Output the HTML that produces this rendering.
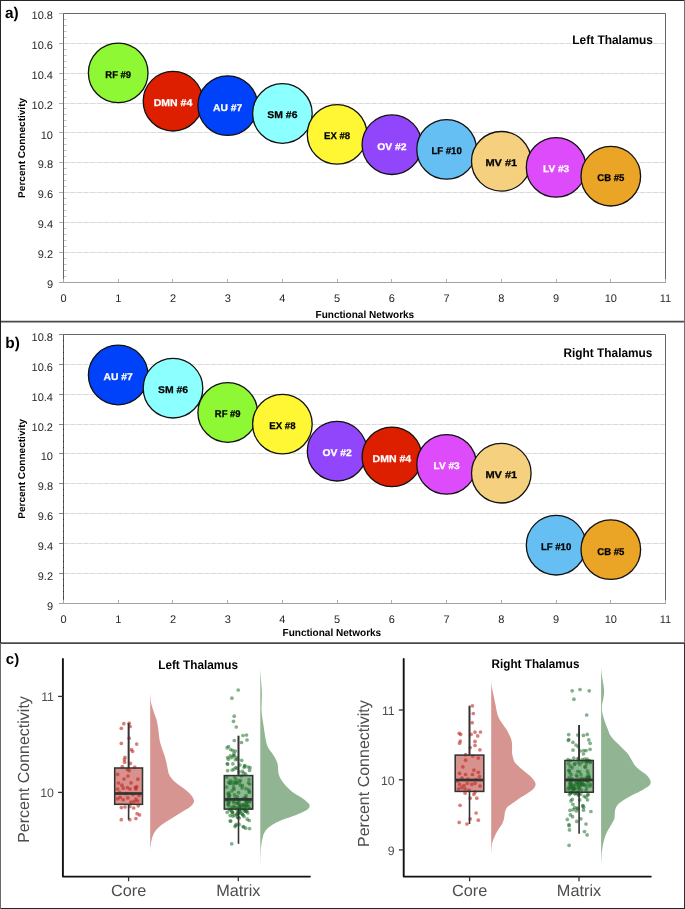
<!DOCTYPE html>
<html><head><meta charset="utf-8"><title>Figure</title>
<style>html,body{margin:0;padding:0;background:#fff;}body{width:685px;height:909px;overflow:hidden;font-family:"Liberation Sans", sans-serif;}svg{display:block;will-change:transform;text-rendering:geometricPrecision;}</style>
</head><body>
<svg width="685" height="909" viewBox="0 0 685 909" font-family='"Liberation Sans", sans-serif'>
<rect x="0" y="0" width="685" height="909" fill="#fff"/>
<line x1="64.0" y1="43.5" x2="665.0" y2="43.5" stroke="#e8e8e8" stroke-width="1"/>
<line x1="64.0" y1="43.5" x2="665.0" y2="43.5" stroke="#d9d9d9" stroke-width="1" stroke-dasharray="4.2,2.5"/>
<line x1="64.0" y1="73.5" x2="665.0" y2="73.5" stroke="#e8e8e8" stroke-width="1"/>
<line x1="64.0" y1="73.5" x2="665.0" y2="73.5" stroke="#d9d9d9" stroke-width="1" stroke-dasharray="4.2,2.5"/>
<line x1="64.0" y1="103.5" x2="665.0" y2="103.5" stroke="#e8e8e8" stroke-width="1"/>
<line x1="64.0" y1="103.5" x2="665.0" y2="103.5" stroke="#d9d9d9" stroke-width="1" stroke-dasharray="4.2,2.5"/>
<line x1="64.0" y1="132.5" x2="665.0" y2="132.5" stroke="#e8e8e8" stroke-width="1"/>
<line x1="64.0" y1="132.5" x2="665.0" y2="132.5" stroke="#d9d9d9" stroke-width="1" stroke-dasharray="4.2,2.5"/>
<line x1="64.0" y1="162.5" x2="665.0" y2="162.5" stroke="#e8e8e8" stroke-width="1"/>
<line x1="64.0" y1="162.5" x2="665.0" y2="162.5" stroke="#d9d9d9" stroke-width="1" stroke-dasharray="4.2,2.5"/>
<line x1="64.0" y1="192.5" x2="665.0" y2="192.5" stroke="#e8e8e8" stroke-width="1"/>
<line x1="64.0" y1="192.5" x2="665.0" y2="192.5" stroke="#d9d9d9" stroke-width="1" stroke-dasharray="4.2,2.5"/>
<line x1="64.0" y1="222.5" x2="665.0" y2="222.5" stroke="#e8e8e8" stroke-width="1"/>
<line x1="64.0" y1="222.5" x2="665.0" y2="222.5" stroke="#d9d9d9" stroke-width="1" stroke-dasharray="4.2,2.5"/>
<line x1="64.0" y1="252.5" x2="665.0" y2="252.5" stroke="#e8e8e8" stroke-width="1"/>
<line x1="64.0" y1="252.5" x2="665.0" y2="252.5" stroke="#d9d9d9" stroke-width="1" stroke-dasharray="4.2,2.5"/>
<line x1="59" y1="282.5" x2="63.5" y2="282.5" stroke="#b0b0b0" stroke-width="1"/>
<line x1="63.5" y1="276.5" x2="66.5" y2="276.5" stroke="#c4c4c4" stroke-width="1"/>
<line x1="63.5" y1="270.5" x2="66.5" y2="270.5" stroke="#c4c4c4" stroke-width="1"/>
<line x1="63.5" y1="264.5" x2="66.5" y2="264.5" stroke="#c4c4c4" stroke-width="1"/>
<line x1="63.5" y1="258.5" x2="66.5" y2="258.5" stroke="#c4c4c4" stroke-width="1"/>
<line x1="59" y1="252.5" x2="63.5" y2="252.5" stroke="#b0b0b0" stroke-width="1"/>
<line x1="63.5" y1="246.5" x2="66.5" y2="246.5" stroke="#c4c4c4" stroke-width="1"/>
<line x1="63.5" y1="240.5" x2="66.5" y2="240.5" stroke="#c4c4c4" stroke-width="1"/>
<line x1="63.5" y1="234.5" x2="66.5" y2="234.5" stroke="#c4c4c4" stroke-width="1"/>
<line x1="63.5" y1="228.5" x2="66.5" y2="228.5" stroke="#c4c4c4" stroke-width="1"/>
<line x1="59" y1="222.5" x2="63.5" y2="222.5" stroke="#b0b0b0" stroke-width="1"/>
<line x1="63.5" y1="216.5" x2="66.5" y2="216.5" stroke="#c4c4c4" stroke-width="1"/>
<line x1="63.5" y1="210.5" x2="66.5" y2="210.5" stroke="#c4c4c4" stroke-width="1"/>
<line x1="63.5" y1="204.5" x2="66.5" y2="204.5" stroke="#c4c4c4" stroke-width="1"/>
<line x1="63.5" y1="198.5" x2="66.5" y2="198.5" stroke="#c4c4c4" stroke-width="1"/>
<line x1="59" y1="192.5" x2="63.5" y2="192.5" stroke="#b0b0b0" stroke-width="1"/>
<line x1="63.5" y1="186.5" x2="66.5" y2="186.5" stroke="#c4c4c4" stroke-width="1"/>
<line x1="63.5" y1="180.5" x2="66.5" y2="180.5" stroke="#c4c4c4" stroke-width="1"/>
<line x1="63.5" y1="174.5" x2="66.5" y2="174.5" stroke="#c4c4c4" stroke-width="1"/>
<line x1="63.5" y1="168.5" x2="66.5" y2="168.5" stroke="#c4c4c4" stroke-width="1"/>
<line x1="59" y1="162.5" x2="63.5" y2="162.5" stroke="#b0b0b0" stroke-width="1"/>
<line x1="63.5" y1="156.5" x2="66.5" y2="156.5" stroke="#c4c4c4" stroke-width="1"/>
<line x1="63.5" y1="150.5" x2="66.5" y2="150.5" stroke="#c4c4c4" stroke-width="1"/>
<line x1="63.5" y1="144.5" x2="66.5" y2="144.5" stroke="#c4c4c4" stroke-width="1"/>
<line x1="63.5" y1="138.5" x2="66.5" y2="138.5" stroke="#c4c4c4" stroke-width="1"/>
<line x1="59" y1="132.5" x2="63.5" y2="132.5" stroke="#b0b0b0" stroke-width="1"/>
<line x1="63.5" y1="126.5" x2="66.5" y2="126.5" stroke="#c4c4c4" stroke-width="1"/>
<line x1="63.5" y1="120.5" x2="66.5" y2="120.5" stroke="#c4c4c4" stroke-width="1"/>
<line x1="63.5" y1="114.5" x2="66.5" y2="114.5" stroke="#c4c4c4" stroke-width="1"/>
<line x1="63.5" y1="108.5" x2="66.5" y2="108.5" stroke="#c4c4c4" stroke-width="1"/>
<line x1="59" y1="103.5" x2="63.5" y2="103.5" stroke="#b0b0b0" stroke-width="1"/>
<line x1="63.5" y1="97.5" x2="66.5" y2="97.5" stroke="#c4c4c4" stroke-width="1"/>
<line x1="63.5" y1="91.5" x2="66.5" y2="91.5" stroke="#c4c4c4" stroke-width="1"/>
<line x1="63.5" y1="85.5" x2="66.5" y2="85.5" stroke="#c4c4c4" stroke-width="1"/>
<line x1="63.5" y1="79.5" x2="66.5" y2="79.5" stroke="#c4c4c4" stroke-width="1"/>
<line x1="59" y1="73.5" x2="63.5" y2="73.5" stroke="#b0b0b0" stroke-width="1"/>
<line x1="63.5" y1="67.5" x2="66.5" y2="67.5" stroke="#c4c4c4" stroke-width="1"/>
<line x1="63.5" y1="61.5" x2="66.5" y2="61.5" stroke="#c4c4c4" stroke-width="1"/>
<line x1="63.5" y1="55.5" x2="66.5" y2="55.5" stroke="#c4c4c4" stroke-width="1"/>
<line x1="63.5" y1="49.5" x2="66.5" y2="49.5" stroke="#c4c4c4" stroke-width="1"/>
<line x1="59" y1="43.5" x2="63.5" y2="43.5" stroke="#b0b0b0" stroke-width="1"/>
<line x1="63.5" y1="37.5" x2="66.5" y2="37.5" stroke="#c4c4c4" stroke-width="1"/>
<line x1="63.5" y1="31.5" x2="66.5" y2="31.5" stroke="#c4c4c4" stroke-width="1"/>
<line x1="63.5" y1="25.5" x2="66.5" y2="25.5" stroke="#c4c4c4" stroke-width="1"/>
<line x1="63.5" y1="19.5" x2="66.5" y2="19.5" stroke="#c4c4c4" stroke-width="1"/>
<line x1="59" y1="13.5" x2="63.5" y2="13.5" stroke="#b0b0b0" stroke-width="1"/>
<line x1="118.5" y1="279.0" x2="118.5" y2="282.5" stroke="#b0b0b0" stroke-width="1"/>
<line x1="172.5" y1="279.0" x2="172.5" y2="282.5" stroke="#b0b0b0" stroke-width="1"/>
<line x1="227.5" y1="279.0" x2="227.5" y2="282.5" stroke="#b0b0b0" stroke-width="1"/>
<line x1="282.5" y1="279.0" x2="282.5" y2="282.5" stroke="#b0b0b0" stroke-width="1"/>
<line x1="337.5" y1="279.0" x2="337.5" y2="282.5" stroke="#b0b0b0" stroke-width="1"/>
<line x1="391.5" y1="279.0" x2="391.5" y2="282.5" stroke="#b0b0b0" stroke-width="1"/>
<line x1="446.5" y1="279.0" x2="446.5" y2="282.5" stroke="#b0b0b0" stroke-width="1"/>
<line x1="501.5" y1="279.0" x2="501.5" y2="282.5" stroke="#b0b0b0" stroke-width="1"/>
<line x1="556.5" y1="279.0" x2="556.5" y2="282.5" stroke="#b0b0b0" stroke-width="1"/>
<line x1="610.5" y1="279.0" x2="610.5" y2="282.5" stroke="#b0b0b0" stroke-width="1"/>
<line x1="665.5" y1="279.0" x2="665.5" y2="282.5" stroke="#b0b0b0" stroke-width="1"/>
<line x1="59" y1="282.5" x2="666.0" y2="282.5" stroke="#a2a2a2" stroke-width="1"/>
<line x1="63.5" y1="278.5" x2="63.5" y2="282.5" stroke="#aaaaaa" stroke-width="1"/>
<path d="M63.5,279.0 L63.5,13.5 L665.5,13.5 L665.5,279.0" fill="none" stroke="#666666" stroke-width="1"/>
<text x="53.0" y="287.8" text-anchor="end" font-size="11" fill="#262626">9</text>
<text x="53.0" y="258.0" text-anchor="end" font-size="11" fill="#262626">9.2</text>
<text x="53.0" y="228.1" text-anchor="end" font-size="11" fill="#262626">9.4</text>
<text x="53.0" y="198.2" text-anchor="end" font-size="11" fill="#262626">9.6</text>
<text x="53.0" y="168.3" text-anchor="end" font-size="11" fill="#262626">9.8</text>
<text x="53.0" y="138.5" text-anchor="end" font-size="11" fill="#262626">10</text>
<text x="53.0" y="108.6" text-anchor="end" font-size="11" fill="#262626">10.2</text>
<text x="53.0" y="78.7" text-anchor="end" font-size="11" fill="#262626">10.4</text>
<text x="53.0" y="48.9" text-anchor="end" font-size="11" fill="#262626">10.6</text>
<text x="53.0" y="19.0" text-anchor="end" font-size="11" fill="#262626">10.8</text>
<text x="63.5" y="302.4" text-anchor="middle" font-size="11" fill="#262626">0</text>
<text x="118.2" y="302.4" text-anchor="middle" font-size="11" fill="#262626">1</text>
<text x="173.0" y="302.4" text-anchor="middle" font-size="11" fill="#262626">2</text>
<text x="227.7" y="302.4" text-anchor="middle" font-size="11" fill="#262626">3</text>
<text x="282.4" y="302.4" text-anchor="middle" font-size="11" fill="#262626">4</text>
<text x="337.1" y="302.4" text-anchor="middle" font-size="11" fill="#262626">5</text>
<text x="391.9" y="302.4" text-anchor="middle" font-size="11" fill="#262626">6</text>
<text x="446.6" y="302.4" text-anchor="middle" font-size="11" fill="#262626">7</text>
<text x="501.3" y="302.4" text-anchor="middle" font-size="11" fill="#262626">8</text>
<text x="556.1" y="302.4" text-anchor="middle" font-size="11" fill="#262626">9</text>
<text x="610.8" y="302.4" text-anchor="middle" font-size="11" fill="#262626">10</text>
<text x="665.5" y="302.4" text-anchor="middle" font-size="11" fill="#262626">11</text>
<circle cx="118.2" cy="72.9" r="29.8" fill="#8ff834" stroke="#111" stroke-width="1.3"/>
<text x="118.2" y="77.8" text-anchor="middle" font-size="9.8" font-weight="bold" fill="#000" stroke="#000" stroke-width="0.25" textLength="25.8" lengthAdjust="spacingAndGlyphs">RF #9</text>
<circle cx="173.0" cy="101.2" r="29.8" fill="#dd1f00" stroke="#111" stroke-width="1.3"/>
<text x="173.0" y="106.1" text-anchor="middle" font-size="9.8" font-weight="bold" fill="#fff" stroke="#fff" stroke-width="0.25" textLength="38.6" lengthAdjust="spacingAndGlyphs">DMN #4</text>
<circle cx="227.7" cy="105.6" r="29.8" fill="#0042fa" stroke="#111" stroke-width="1.3"/>
<text x="227.7" y="110.5" text-anchor="middle" font-size="9.8" font-weight="bold" fill="#fff" stroke="#fff" stroke-width="0.25" textLength="29.2" lengthAdjust="spacingAndGlyphs">AU #7</text>
<circle cx="282.4" cy="113.5" r="29.8" fill="#8cffff" stroke="#111" stroke-width="1.3"/>
<text x="282.4" y="118.4" text-anchor="middle" font-size="9.8" font-weight="bold" fill="#000" stroke="#000" stroke-width="0.25" textLength="30.1" lengthAdjust="spacingAndGlyphs">SM #6</text>
<circle cx="337.1" cy="134.4" r="29.8" fill="#fff733" stroke="#111" stroke-width="1.3"/>
<text x="337.1" y="139.3" text-anchor="middle" font-size="9.8" font-weight="bold" fill="#000" stroke="#000" stroke-width="0.25" textLength="26.2" lengthAdjust="spacingAndGlyphs">EX #8</text>
<circle cx="391.9" cy="144.7" r="29.8" fill="#9146fb" stroke="#111" stroke-width="1.3"/>
<text x="391.9" y="149.6" text-anchor="middle" font-size="9.8" font-weight="bold" fill="#fff" stroke="#fff" stroke-width="0.25" textLength="29.3" lengthAdjust="spacingAndGlyphs">OV #2</text>
<circle cx="446.6" cy="149.4" r="29.8" fill="#66bff2" stroke="#111" stroke-width="1.3"/>
<text x="446.6" y="154.3" text-anchor="middle" font-size="9.8" font-weight="bold" fill="#000" stroke="#000" stroke-width="0.25" textLength="30.4" lengthAdjust="spacingAndGlyphs">LF #10</text>
<circle cx="501.3" cy="161.3" r="29.8" fill="#f5d17f" stroke="#111" stroke-width="1.3"/>
<text x="501.3" y="166.2" text-anchor="middle" font-size="9.8" font-weight="bold" fill="#000" stroke="#000" stroke-width="0.25" textLength="31.8" lengthAdjust="spacingAndGlyphs">MV #1</text>
<circle cx="556.1" cy="167.4" r="29.8" fill="#de4bfb" stroke="#111" stroke-width="1.3"/>
<text x="556.1" y="172.3" text-anchor="middle" font-size="9.8" font-weight="bold" fill="#fff" stroke="#fff" stroke-width="0.25" textLength="26.2" lengthAdjust="spacingAndGlyphs">LV #3</text>
<circle cx="610.8" cy="176.2" r="29.8" fill="#eaa426" stroke="#111" stroke-width="1.3"/>
<text x="610.8" y="181.1" text-anchor="middle" font-size="9.8" font-weight="bold" fill="#000" stroke="#000" stroke-width="0.25" textLength="27.1" lengthAdjust="spacingAndGlyphs">CB #5</text>
<text x="572.3" y="43.5" font-size="12.4" font-weight="bold" fill="#000" textLength="80.7" lengthAdjust="spacingAndGlyphs">Left Thalamus</text>
<text x="5.0" y="18.0" font-size="15.4" font-weight="bold" fill="#000">a)</text>
<text transform="translate(25.4,147.9) rotate(-90)" x="0" y="0" text-anchor="middle" font-size="9.8" font-weight="bold" fill="#000" textLength="100.0" lengthAdjust="spacingAndGlyphs">Percent Connectivity</text>
<text x="315.5" y="317.7" font-size="10.3" font-weight="bold" fill="#000" textLength="98.7" lengthAdjust="spacingAndGlyphs">Functional Networks</text>
<line x1="64.0" y1="364.5" x2="665.0" y2="364.5" stroke="#e8e8e8" stroke-width="1"/>
<line x1="64.0" y1="364.5" x2="665.0" y2="364.5" stroke="#d9d9d9" stroke-width="1" stroke-dasharray="4.2,2.5"/>
<line x1="64.0" y1="394.5" x2="665.0" y2="394.5" stroke="#e8e8e8" stroke-width="1"/>
<line x1="64.0" y1="394.5" x2="665.0" y2="394.5" stroke="#d9d9d9" stroke-width="1" stroke-dasharray="4.2,2.5"/>
<line x1="64.0" y1="424.5" x2="665.0" y2="424.5" stroke="#e8e8e8" stroke-width="1"/>
<line x1="64.0" y1="424.5" x2="665.0" y2="424.5" stroke="#d9d9d9" stroke-width="1" stroke-dasharray="4.2,2.5"/>
<line x1="64.0" y1="453.5" x2="665.0" y2="453.5" stroke="#e8e8e8" stroke-width="1"/>
<line x1="64.0" y1="453.5" x2="665.0" y2="453.5" stroke="#d9d9d9" stroke-width="1" stroke-dasharray="4.2,2.5"/>
<line x1="64.0" y1="483.5" x2="665.0" y2="483.5" stroke="#e8e8e8" stroke-width="1"/>
<line x1="64.0" y1="483.5" x2="665.0" y2="483.5" stroke="#d9d9d9" stroke-width="1" stroke-dasharray="4.2,2.5"/>
<line x1="64.0" y1="513.5" x2="665.0" y2="513.5" stroke="#e8e8e8" stroke-width="1"/>
<line x1="64.0" y1="513.5" x2="665.0" y2="513.5" stroke="#d9d9d9" stroke-width="1" stroke-dasharray="4.2,2.5"/>
<line x1="64.0" y1="543.5" x2="665.0" y2="543.5" stroke="#e8e8e8" stroke-width="1"/>
<line x1="64.0" y1="543.5" x2="665.0" y2="543.5" stroke="#d9d9d9" stroke-width="1" stroke-dasharray="4.2,2.5"/>
<line x1="64.0" y1="573.5" x2="665.0" y2="573.5" stroke="#e8e8e8" stroke-width="1"/>
<line x1="64.0" y1="573.5" x2="665.0" y2="573.5" stroke="#d9d9d9" stroke-width="1" stroke-dasharray="4.2,2.5"/>
<line x1="59" y1="603.5" x2="63.5" y2="603.5" stroke="#8a8a8a" stroke-width="1"/>
<line x1="63.0" y1="597.5" x2="64.0" y2="597.5" stroke="#2a2a2a" stroke-width="1"/>
<line x1="63.0" y1="591.5" x2="64.0" y2="591.5" stroke="#2a2a2a" stroke-width="1"/>
<line x1="63.0" y1="585.5" x2="64.0" y2="585.5" stroke="#2a2a2a" stroke-width="1"/>
<line x1="63.0" y1="579.5" x2="64.0" y2="579.5" stroke="#2a2a2a" stroke-width="1"/>
<line x1="59" y1="573.5" x2="63.5" y2="573.5" stroke="#8a8a8a" stroke-width="1"/>
<line x1="63.0" y1="567.5" x2="64.0" y2="567.5" stroke="#2a2a2a" stroke-width="1"/>
<line x1="63.0" y1="561.5" x2="64.0" y2="561.5" stroke="#2a2a2a" stroke-width="1"/>
<line x1="63.0" y1="555.5" x2="64.0" y2="555.5" stroke="#2a2a2a" stroke-width="1"/>
<line x1="63.0" y1="549.5" x2="64.0" y2="549.5" stroke="#2a2a2a" stroke-width="1"/>
<line x1="59" y1="543.5" x2="63.5" y2="543.5" stroke="#8a8a8a" stroke-width="1"/>
<line x1="63.0" y1="537.5" x2="64.0" y2="537.5" stroke="#2a2a2a" stroke-width="1"/>
<line x1="63.0" y1="531.5" x2="64.0" y2="531.5" stroke="#2a2a2a" stroke-width="1"/>
<line x1="63.0" y1="525.5" x2="64.0" y2="525.5" stroke="#2a2a2a" stroke-width="1"/>
<line x1="63.0" y1="519.5" x2="64.0" y2="519.5" stroke="#2a2a2a" stroke-width="1"/>
<line x1="59" y1="513.5" x2="63.5" y2="513.5" stroke="#8a8a8a" stroke-width="1"/>
<line x1="63.0" y1="507.5" x2="64.0" y2="507.5" stroke="#2a2a2a" stroke-width="1"/>
<line x1="63.0" y1="501.5" x2="64.0" y2="501.5" stroke="#2a2a2a" stroke-width="1"/>
<line x1="63.0" y1="495.5" x2="64.0" y2="495.5" stroke="#2a2a2a" stroke-width="1"/>
<line x1="63.0" y1="489.5" x2="64.0" y2="489.5" stroke="#2a2a2a" stroke-width="1"/>
<line x1="59" y1="483.5" x2="63.5" y2="483.5" stroke="#8a8a8a" stroke-width="1"/>
<line x1="63.0" y1="477.5" x2="64.0" y2="477.5" stroke="#2a2a2a" stroke-width="1"/>
<line x1="63.0" y1="471.5" x2="64.0" y2="471.5" stroke="#2a2a2a" stroke-width="1"/>
<line x1="63.0" y1="465.5" x2="64.0" y2="465.5" stroke="#2a2a2a" stroke-width="1"/>
<line x1="63.0" y1="459.5" x2="64.0" y2="459.5" stroke="#2a2a2a" stroke-width="1"/>
<line x1="59" y1="453.5" x2="63.5" y2="453.5" stroke="#8a8a8a" stroke-width="1"/>
<line x1="63.0" y1="447.5" x2="64.0" y2="447.5" stroke="#2a2a2a" stroke-width="1"/>
<line x1="63.0" y1="441.5" x2="64.0" y2="441.5" stroke="#2a2a2a" stroke-width="1"/>
<line x1="63.0" y1="435.5" x2="64.0" y2="435.5" stroke="#2a2a2a" stroke-width="1"/>
<line x1="63.0" y1="429.5" x2="64.0" y2="429.5" stroke="#2a2a2a" stroke-width="1"/>
<line x1="59" y1="424.5" x2="63.5" y2="424.5" stroke="#8a8a8a" stroke-width="1"/>
<line x1="63.0" y1="418.5" x2="64.0" y2="418.5" stroke="#2a2a2a" stroke-width="1"/>
<line x1="63.0" y1="412.5" x2="64.0" y2="412.5" stroke="#2a2a2a" stroke-width="1"/>
<line x1="63.0" y1="406.5" x2="64.0" y2="406.5" stroke="#2a2a2a" stroke-width="1"/>
<line x1="63.0" y1="400.5" x2="64.0" y2="400.5" stroke="#2a2a2a" stroke-width="1"/>
<line x1="59" y1="394.5" x2="63.5" y2="394.5" stroke="#8a8a8a" stroke-width="1"/>
<line x1="63.0" y1="388.5" x2="64.0" y2="388.5" stroke="#2a2a2a" stroke-width="1"/>
<line x1="63.0" y1="382.5" x2="64.0" y2="382.5" stroke="#2a2a2a" stroke-width="1"/>
<line x1="63.0" y1="376.5" x2="64.0" y2="376.5" stroke="#2a2a2a" stroke-width="1"/>
<line x1="63.0" y1="370.5" x2="64.0" y2="370.5" stroke="#2a2a2a" stroke-width="1"/>
<line x1="59" y1="364.5" x2="63.5" y2="364.5" stroke="#8a8a8a" stroke-width="1"/>
<line x1="63.0" y1="358.5" x2="64.0" y2="358.5" stroke="#2a2a2a" stroke-width="1"/>
<line x1="63.0" y1="352.5" x2="64.0" y2="352.5" stroke="#2a2a2a" stroke-width="1"/>
<line x1="63.0" y1="346.5" x2="64.0" y2="346.5" stroke="#2a2a2a" stroke-width="1"/>
<line x1="63.0" y1="340.5" x2="64.0" y2="340.5" stroke="#2a2a2a" stroke-width="1"/>
<line x1="59" y1="334.5" x2="63.5" y2="334.5" stroke="#8a8a8a" stroke-width="1"/>
<line x1="118.5" y1="600.0" x2="118.5" y2="603.5" stroke="#b0b0b0" stroke-width="1"/>
<line x1="172.5" y1="600.0" x2="172.5" y2="603.5" stroke="#b0b0b0" stroke-width="1"/>
<line x1="227.5" y1="600.0" x2="227.5" y2="603.5" stroke="#b0b0b0" stroke-width="1"/>
<line x1="282.5" y1="600.0" x2="282.5" y2="603.5" stroke="#b0b0b0" stroke-width="1"/>
<line x1="337.5" y1="600.0" x2="337.5" y2="603.5" stroke="#b0b0b0" stroke-width="1"/>
<line x1="391.5" y1="600.0" x2="391.5" y2="603.5" stroke="#b0b0b0" stroke-width="1"/>
<line x1="446.5" y1="600.0" x2="446.5" y2="603.5" stroke="#b0b0b0" stroke-width="1"/>
<line x1="501.5" y1="600.0" x2="501.5" y2="603.5" stroke="#b0b0b0" stroke-width="1"/>
<line x1="556.5" y1="600.0" x2="556.5" y2="603.5" stroke="#b0b0b0" stroke-width="1"/>
<line x1="610.5" y1="600.0" x2="610.5" y2="603.5" stroke="#b0b0b0" stroke-width="1"/>
<line x1="665.5" y1="600.0" x2="665.5" y2="603.5" stroke="#b0b0b0" stroke-width="1"/>
<line x1="59" y1="603.5" x2="666.0" y2="603.5" stroke="#a2a2a2" stroke-width="1"/>
<line x1="63.5" y1="599.5" x2="63.5" y2="603.5" stroke="#aaaaaa" stroke-width="1"/>
<path d="M63.5,600.0 L63.5,334.5 L665.5,334.5 L665.5,600.0" fill="none" stroke="#666666" stroke-width="1"/>
<line x1="63.5" y1="334.5" x2="63.5" y2="600.0" stroke="#5a5a5a" stroke-width="1"/>
<line x1="63.0" y1="597.5" x2="64.0" y2="597.5" stroke="#2a2a2a" stroke-width="1"/>
<line x1="63.0" y1="591.5" x2="64.0" y2="591.5" stroke="#2a2a2a" stroke-width="1"/>
<line x1="63.0" y1="585.5" x2="64.0" y2="585.5" stroke="#2a2a2a" stroke-width="1"/>
<line x1="63.0" y1="579.5" x2="64.0" y2="579.5" stroke="#2a2a2a" stroke-width="1"/>
<line x1="63.0" y1="567.5" x2="64.0" y2="567.5" stroke="#2a2a2a" stroke-width="1"/>
<line x1="63.0" y1="561.5" x2="64.0" y2="561.5" stroke="#2a2a2a" stroke-width="1"/>
<line x1="63.0" y1="555.5" x2="64.0" y2="555.5" stroke="#2a2a2a" stroke-width="1"/>
<line x1="63.0" y1="549.5" x2="64.0" y2="549.5" stroke="#2a2a2a" stroke-width="1"/>
<line x1="63.0" y1="537.5" x2="64.0" y2="537.5" stroke="#2a2a2a" stroke-width="1"/>
<line x1="63.0" y1="531.5" x2="64.0" y2="531.5" stroke="#2a2a2a" stroke-width="1"/>
<line x1="63.0" y1="525.5" x2="64.0" y2="525.5" stroke="#2a2a2a" stroke-width="1"/>
<line x1="63.0" y1="519.5" x2="64.0" y2="519.5" stroke="#2a2a2a" stroke-width="1"/>
<line x1="63.0" y1="507.5" x2="64.0" y2="507.5" stroke="#2a2a2a" stroke-width="1"/>
<line x1="63.0" y1="501.5" x2="64.0" y2="501.5" stroke="#2a2a2a" stroke-width="1"/>
<line x1="63.0" y1="495.5" x2="64.0" y2="495.5" stroke="#2a2a2a" stroke-width="1"/>
<line x1="63.0" y1="489.5" x2="64.0" y2="489.5" stroke="#2a2a2a" stroke-width="1"/>
<line x1="63.0" y1="477.5" x2="64.0" y2="477.5" stroke="#2a2a2a" stroke-width="1"/>
<line x1="63.0" y1="471.5" x2="64.0" y2="471.5" stroke="#2a2a2a" stroke-width="1"/>
<line x1="63.0" y1="465.5" x2="64.0" y2="465.5" stroke="#2a2a2a" stroke-width="1"/>
<line x1="63.0" y1="459.5" x2="64.0" y2="459.5" stroke="#2a2a2a" stroke-width="1"/>
<line x1="63.0" y1="447.5" x2="64.0" y2="447.5" stroke="#2a2a2a" stroke-width="1"/>
<line x1="63.0" y1="441.5" x2="64.0" y2="441.5" stroke="#2a2a2a" stroke-width="1"/>
<line x1="63.0" y1="435.5" x2="64.0" y2="435.5" stroke="#2a2a2a" stroke-width="1"/>
<line x1="63.0" y1="429.5" x2="64.0" y2="429.5" stroke="#2a2a2a" stroke-width="1"/>
<line x1="63.0" y1="418.5" x2="64.0" y2="418.5" stroke="#2a2a2a" stroke-width="1"/>
<line x1="63.0" y1="412.5" x2="64.0" y2="412.5" stroke="#2a2a2a" stroke-width="1"/>
<line x1="63.0" y1="406.5" x2="64.0" y2="406.5" stroke="#2a2a2a" stroke-width="1"/>
<line x1="63.0" y1="400.5" x2="64.0" y2="400.5" stroke="#2a2a2a" stroke-width="1"/>
<line x1="63.0" y1="388.5" x2="64.0" y2="388.5" stroke="#2a2a2a" stroke-width="1"/>
<line x1="63.0" y1="382.5" x2="64.0" y2="382.5" stroke="#2a2a2a" stroke-width="1"/>
<line x1="63.0" y1="376.5" x2="64.0" y2="376.5" stroke="#2a2a2a" stroke-width="1"/>
<line x1="63.0" y1="370.5" x2="64.0" y2="370.5" stroke="#2a2a2a" stroke-width="1"/>
<line x1="63.0" y1="358.5" x2="64.0" y2="358.5" stroke="#2a2a2a" stroke-width="1"/>
<line x1="63.0" y1="352.5" x2="64.0" y2="352.5" stroke="#2a2a2a" stroke-width="1"/>
<line x1="63.0" y1="346.5" x2="64.0" y2="346.5" stroke="#2a2a2a" stroke-width="1"/>
<line x1="63.0" y1="340.5" x2="64.0" y2="340.5" stroke="#2a2a2a" stroke-width="1"/>
<text x="53.0" y="609.7" text-anchor="end" font-size="11" fill="#262626">9</text>
<text x="53.0" y="579.9" text-anchor="end" font-size="11" fill="#262626">9.2</text>
<text x="53.0" y="550.0" text-anchor="end" font-size="11" fill="#262626">9.4</text>
<text x="53.0" y="520.1" text-anchor="end" font-size="11" fill="#262626">9.6</text>
<text x="53.0" y="490.2" text-anchor="end" font-size="11" fill="#262626">9.8</text>
<text x="53.0" y="460.4" text-anchor="end" font-size="11" fill="#262626">10</text>
<text x="53.0" y="430.5" text-anchor="end" font-size="11" fill="#262626">10.2</text>
<text x="53.0" y="400.6" text-anchor="end" font-size="11" fill="#262626">10.4</text>
<text x="53.0" y="370.8" text-anchor="end" font-size="11" fill="#262626">10.6</text>
<text x="53.0" y="340.9" text-anchor="end" font-size="11" fill="#262626">10.8</text>
<text x="63.5" y="623.4" text-anchor="middle" font-size="11" fill="#262626">0</text>
<text x="118.2" y="623.4" text-anchor="middle" font-size="11" fill="#262626">1</text>
<text x="173.0" y="623.4" text-anchor="middle" font-size="11" fill="#262626">2</text>
<text x="227.7" y="623.4" text-anchor="middle" font-size="11" fill="#262626">3</text>
<text x="282.4" y="623.4" text-anchor="middle" font-size="11" fill="#262626">4</text>
<text x="337.1" y="623.4" text-anchor="middle" font-size="11" fill="#262626">5</text>
<text x="391.9" y="623.4" text-anchor="middle" font-size="11" fill="#262626">6</text>
<text x="446.6" y="623.4" text-anchor="middle" font-size="11" fill="#262626">7</text>
<text x="501.3" y="623.4" text-anchor="middle" font-size="11" fill="#262626">8</text>
<text x="556.1" y="623.4" text-anchor="middle" font-size="11" fill="#262626">9</text>
<text x="610.8" y="623.4" text-anchor="middle" font-size="11" fill="#262626">10</text>
<text x="665.5" y="623.4" text-anchor="middle" font-size="11" fill="#262626">11</text>
<circle cx="118.2" cy="375.0" r="29.8" fill="#0042fa" stroke="#111" stroke-width="1.3"/>
<text x="118.2" y="379.9" text-anchor="middle" font-size="9.8" font-weight="bold" fill="#fff" stroke="#fff" stroke-width="0.25" textLength="29.2" lengthAdjust="spacingAndGlyphs">AU #7</text>
<circle cx="173.0" cy="388.2" r="29.8" fill="#8cffff" stroke="#111" stroke-width="1.3"/>
<text x="173.0" y="393.1" text-anchor="middle" font-size="9.8" font-weight="bold" fill="#000" stroke="#000" stroke-width="0.25" textLength="30.1" lengthAdjust="spacingAndGlyphs">SM #6</text>
<circle cx="227.7" cy="412.5" r="29.8" fill="#8ff834" stroke="#111" stroke-width="1.3"/>
<text x="227.7" y="417.4" text-anchor="middle" font-size="9.8" font-weight="bold" fill="#000" stroke="#000" stroke-width="0.25" textLength="25.8" lengthAdjust="spacingAndGlyphs">RF #9</text>
<circle cx="282.4" cy="424.1" r="29.8" fill="#fff733" stroke="#111" stroke-width="1.3"/>
<text x="282.4" y="429.0" text-anchor="middle" font-size="9.8" font-weight="bold" fill="#000" stroke="#000" stroke-width="0.25" textLength="26.2" lengthAdjust="spacingAndGlyphs">EX #8</text>
<circle cx="337.1" cy="451.2" r="29.8" fill="#9146fb" stroke="#111" stroke-width="1.3"/>
<text x="337.1" y="456.1" text-anchor="middle" font-size="9.8" font-weight="bold" fill="#fff" stroke="#fff" stroke-width="0.25" textLength="29.3" lengthAdjust="spacingAndGlyphs">OV #2</text>
<circle cx="391.9" cy="456.9" r="29.8" fill="#dd1f00" stroke="#111" stroke-width="1.3"/>
<text x="391.9" y="461.8" text-anchor="middle" font-size="9.8" font-weight="bold" fill="#fff" stroke="#fff" stroke-width="0.25" textLength="38.6" lengthAdjust="spacingAndGlyphs">DMN #4</text>
<circle cx="446.6" cy="464.4" r="29.8" fill="#de4bfb" stroke="#111" stroke-width="1.3"/>
<text x="446.6" y="469.3" text-anchor="middle" font-size="9.8" font-weight="bold" fill="#fff" stroke="#fff" stroke-width="0.25" textLength="26.2" lengthAdjust="spacingAndGlyphs">LV #3</text>
<circle cx="501.3" cy="473.2" r="29.8" fill="#f5d17f" stroke="#111" stroke-width="1.3"/>
<text x="501.3" y="478.1" text-anchor="middle" font-size="9.8" font-weight="bold" fill="#000" stroke="#000" stroke-width="0.25" textLength="31.8" lengthAdjust="spacingAndGlyphs">MV #1</text>
<circle cx="556.1" cy="545.2" r="29.8" fill="#66bff2" stroke="#111" stroke-width="1.3"/>
<text x="556.1" y="550.1" text-anchor="middle" font-size="9.8" font-weight="bold" fill="#000" stroke="#000" stroke-width="0.25" textLength="30.4" lengthAdjust="spacingAndGlyphs">LF #10</text>
<circle cx="610.8" cy="549.6" r="29.8" fill="#eaa426" stroke="#111" stroke-width="1.3"/>
<text x="610.8" y="554.5" text-anchor="middle" font-size="9.8" font-weight="bold" fill="#000" stroke="#000" stroke-width="0.25" textLength="27.1" lengthAdjust="spacingAndGlyphs">CB #5</text>
<text x="563.5" y="357.0" font-size="12.4" font-weight="bold" fill="#000" textLength="88.9" lengthAdjust="spacingAndGlyphs">Right Thalamus</text>
<text x="5.3" y="348.1" font-size="15.4" font-weight="bold" fill="#000">b)</text>
<text transform="translate(25.4,468.8) rotate(-90)" x="0" y="0" text-anchor="middle" font-size="9.8" font-weight="bold" fill="#000" textLength="100.0" lengthAdjust="spacingAndGlyphs">Percent Connectivity</text>
<text x="282.5" y="635.7" font-size="10.3" font-weight="bold" fill="#000" textLength="98.7" lengthAdjust="spacingAndGlyphs">Functional Networks</text>
<path d="M150.2,692.3 L150.2,692.3 C150.3,693.6 150.5,697.9 150.7,700.0 C150.9,702.1 151.1,703.1 151.6,705.0 C152.1,706.9 152.9,709.2 153.6,711.4 C154.3,713.6 155.3,715.8 156.0,718.0 C156.7,720.2 157.2,722.5 157.6,724.7 C158.0,726.9 158.3,728.8 158.6,731.3 C158.9,733.8 159.1,737.2 159.6,740.0 C160.1,742.8 160.9,745.3 161.8,748.0 C162.6,750.7 163.9,753.4 164.7,756.1 C165.5,758.8 166.1,761.4 166.7,764.1 C167.3,766.8 167.8,770.1 168.3,772.1 C168.8,774.1 169.1,774.8 169.9,776.1 C170.7,777.5 171.8,778.9 173.1,780.2 C174.4,781.6 176.2,782.9 177.9,784.2 C179.6,785.5 181.8,786.9 183.5,788.2 C185.2,789.5 187.0,790.9 188.4,792.2 C189.8,793.5 191.1,794.8 192.0,796.2 C192.9,797.6 193.8,799.4 194.0,800.6 C194.2,801.8 193.9,802.4 193.2,803.5 C192.5,804.6 191.6,805.7 190.0,807.0 C188.4,808.3 185.7,809.8 183.5,811.1 C181.3,812.5 179.2,813.8 177.1,815.1 C175.0,816.4 172.8,817.8 170.7,819.1 C168.6,820.4 166.2,821.8 164.3,823.1 C162.3,824.4 160.5,825.8 159.0,827.1 C157.5,828.4 156.4,829.8 155.4,831.1 C154.4,832.5 153.6,833.9 153.0,835.2 C152.4,836.6 152.1,837.9 151.8,839.2 C151.5,840.5 151.3,841.3 151.0,843.2 C150.7,845.1 150.3,849.2 150.2,850.4 Z" fill="#d69590"/>
<path d="M260.3,667.9 L260.3,667.9 C260.4,670.2 260.9,678.2 261.2,682.0 C261.4,685.8 261.7,687.9 261.8,690.8 C261.9,693.7 261.9,696.7 261.8,699.6 C261.8,702.5 261.4,705.5 261.5,708.4 C261.6,711.3 261.8,714.3 262.2,717.2 C262.6,720.1 263.2,723.0 263.6,726.0 C264.1,729.0 264.4,732.0 264.9,735.0 C265.4,738.0 266.1,741.6 266.7,743.8 C267.3,746.0 267.7,746.7 268.5,748.2 C269.3,749.7 270.6,751.1 271.6,752.6 C272.6,754.1 273.7,755.5 274.6,757.0 C275.5,758.5 276.2,759.9 276.8,761.4 C277.4,762.9 277.7,764.3 277.9,765.8 C278.1,767.3 278.1,768.7 278.2,770.2 C278.3,771.7 278.4,773.1 278.8,774.6 C279.2,776.1 279.9,777.5 280.8,779.0 C281.7,780.5 282.7,781.9 283.9,783.4 C285.1,784.9 286.3,786.3 287.8,787.8 C289.3,789.3 290.7,790.7 292.7,792.2 C294.7,793.7 297.5,795.1 299.7,796.6 C301.9,798.1 304.2,799.5 305.9,801.0 C307.6,802.5 309.8,804.2 309.8,805.8 C309.8,807.4 308.2,809.1 305.9,810.6 C303.6,812.1 299.9,813.5 296.2,815.0 C292.5,816.5 287.6,817.8 283.9,819.3 C280.2,820.8 276.9,822.2 274.2,823.7 C271.5,825.2 269.6,826.6 268.0,828.1 C266.4,829.6 265.4,831.0 264.5,832.5 C263.6,834.0 263.3,835.0 262.8,836.9 C262.3,838.8 261.8,841.4 261.4,844.0 C261.0,846.6 260.8,849.0 260.7,852.8 C260.5,856.6 260.4,864.5 260.3,866.8 Z" fill="#91b593"/>
<line x1="128.6" y1="723.2" x2="128.6" y2="804.3" stroke="#333" stroke-width="1.6"/>
<rect x="114.7" y="768.0" width="27.8" height="36.3" fill="#d8918c" stroke="none"/>
<line x1="238.5" y1="735.8" x2="238.5" y2="809.1" stroke="#333" stroke-width="1.6"/>
<rect x="224.3" y="775.6" width="28.4" height="33.5" fill="#8fba92" stroke="none"/>
<circle cx="123.8" cy="723.7" r="1.85" fill="rgba(188,34,26,0.58)"/>
<circle cx="129.2" cy="723.2" r="1.85" fill="rgba(188,34,26,0.58)"/>
<circle cx="130.1" cy="726.5" r="1.85" fill="rgba(188,34,26,0.58)"/>
<circle cx="121.3" cy="728.3" r="1.85" fill="rgba(188,34,26,0.58)"/>
<circle cx="129.2" cy="738.2" r="1.85" fill="rgba(188,34,26,0.58)"/>
<circle cx="121.3" cy="743.4" r="1.85" fill="rgba(188,34,26,0.58)"/>
<circle cx="136.7" cy="744.1" r="1.85" fill="rgba(188,34,26,0.58)"/>
<circle cx="131.4" cy="749.5" r="1.85" fill="rgba(188,34,26,0.58)"/>
<circle cx="132.6" cy="751.3" r="1.85" fill="rgba(188,34,26,0.58)"/>
<circle cx="125.0" cy="757.4" r="1.85" fill="rgba(188,34,26,0.58)"/>
<circle cx="124.4" cy="759.6" r="1.85" fill="rgba(188,34,26,0.58)"/>
<circle cx="124.6" cy="762.2" r="1.85" fill="rgba(188,34,26,0.58)"/>
<circle cx="130.4" cy="763.4" r="1.85" fill="rgba(188,34,26,0.58)"/>
<circle cx="122.3" cy="766.5" r="1.85" fill="rgba(188,34,26,0.58)"/>
<circle cx="134.7" cy="767.1" r="1.85" fill="rgba(188,34,26,0.58)"/>
<circle cx="127.4" cy="769.5" r="1.85" fill="rgba(188,34,26,0.58)"/>
<circle cx="129.2" cy="770.7" r="1.85" fill="rgba(188,34,26,0.58)"/>
<circle cx="117.7" cy="774.3" r="1.85" fill="rgba(188,34,26,0.58)"/>
<circle cx="137.9" cy="779.2" r="1.85" fill="rgba(188,34,26,0.58)"/>
<circle cx="131.0" cy="782.8" r="1.85" fill="rgba(188,34,26,0.58)"/>
<circle cx="121.9" cy="785.2" r="1.85" fill="rgba(188,34,26,0.58)"/>
<circle cx="123.2" cy="788.2" r="1.85" fill="rgba(188,34,26,0.58)"/>
<circle cx="127.4" cy="787.6" r="1.85" fill="rgba(188,34,26,0.58)"/>
<circle cx="117.7" cy="789.1" r="1.85" fill="rgba(188,34,26,0.58)"/>
<circle cx="135.3" cy="787.6" r="1.85" fill="rgba(188,34,26,0.58)"/>
<circle cx="136.7" cy="786.7" r="1.85" fill="rgba(188,34,26,0.58)"/>
<circle cx="135.9" cy="789.1" r="1.85" fill="rgba(188,34,26,0.58)"/>
<circle cx="120.1" cy="797.3" r="1.85" fill="rgba(188,34,26,0.58)"/>
<circle cx="117.7" cy="798.8" r="1.85" fill="rgba(188,34,26,0.58)"/>
<circle cx="123.2" cy="799.7" r="1.85" fill="rgba(188,34,26,0.58)"/>
<circle cx="127.8" cy="797.9" r="1.85" fill="rgba(188,34,26,0.58)"/>
<circle cx="135.9" cy="799.1" r="1.85" fill="rgba(188,34,26,0.58)"/>
<circle cx="137.7" cy="801.0" r="1.85" fill="rgba(188,34,26,0.58)"/>
<circle cx="131.0" cy="802.2" r="1.85" fill="rgba(188,34,26,0.58)"/>
<circle cx="134.1" cy="801.6" r="1.85" fill="rgba(188,34,26,0.58)"/>
<circle cx="121.3" cy="807.6" r="1.85" fill="rgba(188,34,26,0.58)"/>
<circle cx="125.0" cy="807.0" r="1.85" fill="rgba(188,34,26,0.58)"/>
<circle cx="129.8" cy="806.4" r="1.85" fill="rgba(188,34,26,0.58)"/>
<circle cx="133.7" cy="808.0" r="1.85" fill="rgba(188,34,26,0.58)"/>
<circle cx="138.3" cy="805.8" r="1.85" fill="rgba(188,34,26,0.58)"/>
<circle cx="137.1" cy="813.7" r="1.85" fill="rgba(188,34,26,0.58)"/>
<circle cx="139.5" cy="814.9" r="1.85" fill="rgba(188,34,26,0.58)"/>
<circle cx="121.3" cy="819.7" r="1.85" fill="rgba(188,34,26,0.58)"/>
<circle cx="135.9" cy="818.5" r="1.85" fill="rgba(188,34,26,0.58)"/>
<circle cx="129.8" cy="819.7" r="1.85" fill="rgba(188,34,26,0.58)"/>
<circle cx="119.5" cy="792.5" r="1.85" fill="rgba(188,34,26,0.58)"/>
<circle cx="126.0" cy="793.6" r="1.85" fill="rgba(188,34,26,0.58)"/>
<circle cx="133.0" cy="794.5" r="1.85" fill="rgba(188,34,26,0.58)"/>
<circle cx="139.0" cy="795.5" r="1.85" fill="rgba(188,34,26,0.58)"/>
<circle cx="118.5" cy="783.0" r="1.85" fill="rgba(188,34,26,0.58)"/>
<circle cx="130.0" cy="789.0" r="1.85" fill="rgba(188,34,26,0.58)"/>
<circle cx="124.0" cy="779.0" r="1.85" fill="rgba(188,34,26,0.58)"/>
<circle cx="128.0" cy="776.0" r="1.85" fill="rgba(188,34,26,0.58)"/>
<circle cx="242.1" cy="788.1" r="1.85" fill="rgba(30,110,40,0.55)"/>
<circle cx="235.3" cy="759.7" r="1.85" fill="rgba(30,110,40,0.55)"/>
<circle cx="227.6" cy="757.5" r="1.85" fill="rgba(30,110,40,0.55)"/>
<circle cx="228.8" cy="795.0" r="1.85" fill="rgba(30,110,40,0.55)"/>
<circle cx="229.6" cy="795.4" r="1.85" fill="rgba(30,110,40,0.55)"/>
<circle cx="249.1" cy="779.6" r="1.85" fill="rgba(30,110,40,0.55)"/>
<circle cx="249.7" cy="801.8" r="1.85" fill="rgba(30,110,40,0.55)"/>
<circle cx="233.5" cy="755.8" r="1.85" fill="rgba(30,110,40,0.55)"/>
<circle cx="234.0" cy="769.1" r="1.85" fill="rgba(30,110,40,0.55)"/>
<circle cx="240.4" cy="811.8" r="1.85" fill="rgba(30,110,40,0.55)"/>
<circle cx="239.6" cy="804.6" r="1.85" fill="rgba(30,110,40,0.55)"/>
<circle cx="231.6" cy="757.6" r="1.85" fill="rgba(30,110,40,0.55)"/>
<circle cx="234.1" cy="806.2" r="1.85" fill="rgba(30,110,40,0.55)"/>
<circle cx="233.8" cy="802.4" r="1.85" fill="rgba(30,110,40,0.55)"/>
<circle cx="232.5" cy="811.8" r="1.85" fill="rgba(30,110,40,0.55)"/>
<circle cx="247.4" cy="802.0" r="1.85" fill="rgba(30,110,40,0.55)"/>
<circle cx="249.8" cy="808.3" r="1.85" fill="rgba(30,110,40,0.55)"/>
<circle cx="244.6" cy="766.1" r="1.85" fill="rgba(30,110,40,0.55)"/>
<circle cx="227.6" cy="770.6" r="1.85" fill="rgba(30,110,40,0.55)"/>
<circle cx="240.2" cy="806.2" r="1.85" fill="rgba(30,110,40,0.55)"/>
<circle cx="243.1" cy="815.1" r="1.85" fill="rgba(30,110,40,0.55)"/>
<circle cx="237.5" cy="803.0" r="1.85" fill="rgba(30,110,40,0.55)"/>
<circle cx="237.9" cy="814.0" r="1.85" fill="rgba(30,110,40,0.55)"/>
<circle cx="243.3" cy="805.1" r="1.85" fill="rgba(30,110,40,0.55)"/>
<circle cx="246.1" cy="806.1" r="1.85" fill="rgba(30,110,40,0.55)"/>
<circle cx="242.5" cy="785.4" r="1.85" fill="rgba(30,110,40,0.55)"/>
<circle cx="230.7" cy="749.5" r="1.85" fill="rgba(30,110,40,0.55)"/>
<circle cx="244.8" cy="765.5" r="1.85" fill="rgba(30,110,40,0.55)"/>
<circle cx="235.9" cy="767.6" r="1.85" fill="rgba(30,110,40,0.55)"/>
<circle cx="237.3" cy="814.3" r="1.85" fill="rgba(30,110,40,0.55)"/>
<circle cx="246.0" cy="801.6" r="1.85" fill="rgba(30,110,40,0.55)"/>
<circle cx="236.5" cy="814.2" r="1.85" fill="rgba(30,110,40,0.55)"/>
<circle cx="249.3" cy="791.9" r="1.85" fill="rgba(30,110,40,0.55)"/>
<circle cx="232.2" cy="770.1" r="1.85" fill="rgba(30,110,40,0.55)"/>
<circle cx="240.6" cy="780.7" r="1.85" fill="rgba(30,110,40,0.55)"/>
<circle cx="236.6" cy="782.6" r="1.85" fill="rgba(30,110,40,0.55)"/>
<circle cx="249.2" cy="791.9" r="1.85" fill="rgba(30,110,40,0.55)"/>
<circle cx="241.3" cy="806.8" r="1.85" fill="rgba(30,110,40,0.55)"/>
<circle cx="247.9" cy="805.6" r="1.85" fill="rgba(30,110,40,0.55)"/>
<circle cx="245.5" cy="811.2" r="1.85" fill="rgba(30,110,40,0.55)"/>
<circle cx="229.1" cy="792.9" r="1.85" fill="rgba(30,110,40,0.55)"/>
<circle cx="228.3" cy="803.7" r="1.85" fill="rgba(30,110,40,0.55)"/>
<circle cx="234.7" cy="777.6" r="1.85" fill="rgba(30,110,40,0.55)"/>
<circle cx="230.3" cy="755.8" r="1.85" fill="rgba(30,110,40,0.55)"/>
<circle cx="227.3" cy="763.8" r="1.85" fill="rgba(30,110,40,0.55)"/>
<circle cx="230.2" cy="815.6" r="1.85" fill="rgba(30,110,40,0.55)"/>
<circle cx="235.3" cy="782.3" r="1.85" fill="rgba(30,110,40,0.55)"/>
<circle cx="250.1" cy="767.7" r="1.85" fill="rgba(30,110,40,0.55)"/>
<circle cx="228.7" cy="797.0" r="1.85" fill="rgba(30,110,40,0.55)"/>
<circle cx="232.9" cy="763.8" r="1.85" fill="rgba(30,110,40,0.55)"/>
<circle cx="227.2" cy="812.3" r="1.85" fill="rgba(30,110,40,0.55)"/>
<circle cx="230.2" cy="821.1" r="1.85" fill="rgba(30,110,40,0.55)"/>
<circle cx="239.2" cy="799.8" r="1.85" fill="rgba(30,110,40,0.55)"/>
<circle cx="243.1" cy="826.5" r="1.85" fill="rgba(30,110,40,0.55)"/>
<circle cx="230.6" cy="783.2" r="1.85" fill="rgba(30,110,40,0.55)"/>
<circle cx="245.1" cy="810.7" r="1.85" fill="rgba(30,110,40,0.55)"/>
<circle cx="245.9" cy="788.7" r="1.85" fill="rgba(30,110,40,0.55)"/>
<circle cx="245.7" cy="828.2" r="1.85" fill="rgba(30,110,40,0.55)"/>
<circle cx="232.1" cy="812.7" r="1.85" fill="rgba(30,110,40,0.55)"/>
<circle cx="227.4" cy="799.4" r="1.85" fill="rgba(30,110,40,0.55)"/>
<circle cx="232.8" cy="750.5" r="1.85" fill="rgba(30,110,40,0.55)"/>
<circle cx="237.3" cy="807.5" r="1.85" fill="rgba(30,110,40,0.55)"/>
<circle cx="249.2" cy="820.5" r="1.85" fill="rgba(30,110,40,0.55)"/>
<circle cx="232.1" cy="790.9" r="1.85" fill="rgba(30,110,40,0.55)"/>
<circle cx="241.4" cy="775.9" r="1.85" fill="rgba(30,110,40,0.55)"/>
<circle cx="238.0" cy="817.3" r="1.85" fill="rgba(30,110,40,0.55)"/>
<circle cx="228.7" cy="805.8" r="1.85" fill="rgba(30,110,40,0.55)"/>
<circle cx="245.2" cy="806.5" r="1.85" fill="rgba(30,110,40,0.55)"/>
<circle cx="230.9" cy="809.6" r="1.85" fill="rgba(30,110,40,0.55)"/>
<circle cx="245.6" cy="810.8" r="1.85" fill="rgba(30,110,40,0.55)"/>
<circle cx="236.2" cy="824.4" r="1.85" fill="rgba(30,110,40,0.55)"/>
<circle cx="230.7" cy="821.0" r="1.85" fill="rgba(30,110,40,0.55)"/>
<circle cx="248.1" cy="767.0" r="1.85" fill="rgba(30,110,40,0.55)"/>
<circle cx="246.2" cy="811.4" r="1.85" fill="rgba(30,110,40,0.55)"/>
<circle cx="235.0" cy="826.6" r="1.85" fill="rgba(30,110,40,0.55)"/>
<circle cx="227.0" cy="800.4" r="1.85" fill="rgba(30,110,40,0.55)"/>
<circle cx="239.1" cy="824.4" r="1.85" fill="rgba(30,110,40,0.55)"/>
<circle cx="247.3" cy="819.2" r="1.85" fill="rgba(30,110,40,0.55)"/>
<circle cx="232.6" cy="812.3" r="1.85" fill="rgba(30,110,40,0.55)"/>
<circle cx="240.5" cy="785.6" r="1.85" fill="rgba(30,110,40,0.55)"/>
<circle cx="229.8" cy="783.3" r="1.85" fill="rgba(30,110,40,0.55)"/>
<circle cx="237.5" cy="817.3" r="1.85" fill="rgba(30,110,40,0.55)"/>
<circle cx="236.6" cy="803.1" r="1.85" fill="rgba(30,110,40,0.55)"/>
<circle cx="239.3" cy="818.0" r="1.85" fill="rgba(30,110,40,0.55)"/>
<circle cx="237.1" cy="798.9" r="1.85" fill="rgba(30,110,40,0.55)"/>
<circle cx="245.6" cy="774.2" r="1.85" fill="rgba(30,110,40,0.55)"/>
<circle cx="243.8" cy="773.2" r="1.85" fill="rgba(30,110,40,0.55)"/>
<circle cx="238.9" cy="800.7" r="1.85" fill="rgba(30,110,40,0.55)"/>
<circle cx="229.2" cy="801.5" r="1.85" fill="rgba(30,110,40,0.55)"/>
<circle cx="233.2" cy="801.1" r="1.85" fill="rgba(30,110,40,0.55)"/>
<circle cx="240.0" cy="810.6" r="1.85" fill="rgba(30,110,40,0.55)"/>
<circle cx="237.2" cy="810.3" r="1.85" fill="rgba(30,110,40,0.55)"/>
<circle cx="238.8" cy="803.4" r="1.85" fill="rgba(30,110,40,0.55)"/>
<circle cx="239.3" cy="806.7" r="1.85" fill="rgba(30,110,40,0.55)"/>
<circle cx="243.2" cy="798.6" r="1.85" fill="rgba(30,110,40,0.55)"/>
<circle cx="232.8" cy="816.1" r="1.85" fill="rgba(30,110,40,0.55)"/>
<circle cx="246.5" cy="802.2" r="1.85" fill="rgba(30,110,40,0.55)"/>
<circle cx="237.1" cy="768.3" r="1.85" fill="rgba(30,110,40,0.55)"/>
<circle cx="228.4" cy="759.2" r="1.85" fill="rgba(30,110,40,0.55)"/>
<circle cx="247.9" cy="806.3" r="1.85" fill="rgba(30,110,40,0.55)"/>
<circle cx="242.3" cy="771.4" r="1.85" fill="rgba(30,110,40,0.55)"/>
<circle cx="249.5" cy="770.4" r="1.85" fill="rgba(30,110,40,0.55)"/>
<circle cx="236.1" cy="779.7" r="1.85" fill="rgba(30,110,40,0.55)"/>
<circle cx="246.3" cy="799.1" r="1.85" fill="rgba(30,110,40,0.55)"/>
<circle cx="238.9" cy="771.9" r="1.85" fill="rgba(30,110,40,0.55)"/>
<circle cx="234.2" cy="789.1" r="1.85" fill="rgba(30,110,40,0.55)"/>
<circle cx="239.8" cy="807.4" r="1.85" fill="rgba(30,110,40,0.55)"/>
<circle cx="234.5" cy="794.9" r="1.85" fill="rgba(30,110,40,0.55)"/>
<circle cx="228.2" cy="804.4" r="1.85" fill="rgba(30,110,40,0.55)"/>
<circle cx="249.6" cy="828.6" r="1.85" fill="rgba(30,110,40,0.55)"/>
<circle cx="227.6" cy="764.1" r="1.85" fill="rgba(30,110,40,0.55)"/>
<circle cx="229.8" cy="810.2" r="1.85" fill="rgba(30,110,40,0.55)"/>
<circle cx="246.0" cy="795.5" r="1.85" fill="rgba(30,110,40,0.55)"/>
<circle cx="248.4" cy="782.8" r="1.85" fill="rgba(30,110,40,0.55)"/>
<circle cx="228.8" cy="802.3" r="1.85" fill="rgba(30,110,40,0.55)"/>
<circle cx="236.7" cy="757.7" r="1.85" fill="rgba(30,110,40,0.55)"/>
<circle cx="241.7" cy="760.3" r="1.85" fill="rgba(30,110,40,0.55)"/>
<circle cx="246.9" cy="810.8" r="1.85" fill="rgba(30,110,40,0.55)"/>
<circle cx="237.4" cy="759.3" r="1.85" fill="rgba(30,110,40,0.55)"/>
<circle cx="248.6" cy="789.6" r="1.85" fill="rgba(30,110,40,0.55)"/>
<circle cx="239.1" cy="783.2" r="1.85" fill="rgba(30,110,40,0.55)"/>
<circle cx="230.5" cy="780.6" r="1.85" fill="rgba(30,110,40,0.55)"/>
<circle cx="234.1" cy="755.6" r="1.85" fill="rgba(30,110,40,0.55)"/>
<circle cx="233.5" cy="787.8" r="1.85" fill="rgba(30,110,40,0.55)"/>
<circle cx="234.9" cy="798.3" r="1.85" fill="rgba(30,110,40,0.55)"/>
<circle cx="227.1" cy="747.8" r="1.85" fill="rgba(30,110,40,0.55)"/>
<circle cx="231.2" cy="808.8" r="1.85" fill="rgba(30,110,40,0.55)"/>
<circle cx="229.2" cy="798.2" r="1.85" fill="rgba(30,110,40,0.55)"/>
<circle cx="238.4" cy="812.3" r="1.85" fill="rgba(30,110,40,0.55)"/>
<circle cx="238.7" cy="813.1" r="1.85" fill="rgba(30,110,40,0.55)"/>
<circle cx="234.8" cy="807.5" r="1.85" fill="rgba(30,110,40,0.55)"/>
<circle cx="241.7" cy="813.6" r="1.85" fill="rgba(30,110,40,0.55)"/>
<circle cx="228.0" cy="793.7" r="1.85" fill="rgba(30,110,40,0.55)"/>
<circle cx="244.2" cy="767.3" r="1.85" fill="rgba(30,110,40,0.55)"/>
<circle cx="228.7" cy="782.4" r="1.85" fill="rgba(30,110,40,0.55)"/>
<circle cx="242.5" cy="814.3" r="1.85" fill="rgba(30,110,40,0.55)"/>
<circle cx="233.6" cy="784.7" r="1.85" fill="rgba(30,110,40,0.55)"/>
<circle cx="237.2" cy="796.5" r="1.85" fill="rgba(30,110,40,0.55)"/>
<circle cx="249.7" cy="784.1" r="1.85" fill="rgba(30,110,40,0.55)"/>
<circle cx="249.5" cy="800.6" r="1.85" fill="rgba(30,110,40,0.55)"/>
<circle cx="226.7" cy="787.1" r="1.85" fill="rgba(30,110,40,0.55)"/>
<circle cx="238.6" cy="792.6" r="1.85" fill="rgba(30,110,40,0.55)"/>
<circle cx="226.8" cy="777.2" r="1.85" fill="rgba(30,110,40,0.55)"/>
<circle cx="236.1" cy="783.2" r="1.85" fill="rgba(30,110,40,0.55)"/>
<circle cx="233.9" cy="753.6" r="1.85" fill="rgba(30,110,40,0.55)"/>
<circle cx="239.2" cy="780.9" r="1.85" fill="rgba(30,110,40,0.55)"/>
<circle cx="243.6" cy="809.9" r="1.85" fill="rgba(30,110,40,0.55)"/>
<circle cx="234.4" cy="815.3" r="1.85" fill="rgba(30,110,40,0.55)"/>
<circle cx="243.8" cy="827.1" r="1.85" fill="rgba(30,110,40,0.55)"/>
<circle cx="246.4" cy="804.1" r="1.85" fill="rgba(30,110,40,0.55)"/>
<circle cx="244.0" cy="816.5" r="1.85" fill="rgba(30,110,40,0.55)"/>
<circle cx="239.1" cy="811.3" r="1.85" fill="rgba(30,110,40,0.55)"/>
<circle cx="245.7" cy="799.3" r="1.85" fill="rgba(30,110,40,0.55)"/>
<circle cx="247.8" cy="812.9" r="1.85" fill="rgba(30,110,40,0.55)"/>
<circle cx="232.1" cy="807.1" r="1.85" fill="rgba(30,110,40,0.55)"/>
<circle cx="235.2" cy="751.1" r="1.85" fill="rgba(30,110,40,0.55)"/>
<circle cx="239.9" cy="765.0" r="1.85" fill="rgba(30,110,40,0.55)"/>
<circle cx="242.8" cy="804.6" r="1.85" fill="rgba(30,110,40,0.55)"/>
<circle cx="245.5" cy="797.6" r="1.85" fill="rgba(30,110,40,0.55)"/>
<circle cx="239.3" cy="809.2" r="1.85" fill="rgba(30,110,40,0.55)"/>
<circle cx="244.1" cy="805.1" r="1.85" fill="rgba(30,110,40,0.55)"/>
<circle cx="233.0" cy="781.8" r="1.85" fill="rgba(30,110,40,0.55)"/>
<circle cx="244.2" cy="808.2" r="1.85" fill="rgba(30,110,40,0.55)"/>
<circle cx="235.7" cy="825.5" r="1.85" fill="rgba(30,110,40,0.55)"/>
<circle cx="244.8" cy="798.2" r="1.85" fill="rgba(30,110,40,0.55)"/>
<circle cx="238.2" cy="690.0" r="1.85" fill="rgba(30,110,40,0.55)"/>
<circle cx="231.9" cy="698.2" r="1.85" fill="rgba(30,110,40,0.55)"/>
<circle cx="234.2" cy="716.2" r="1.85" fill="rgba(30,110,40,0.55)"/>
<circle cx="233.5" cy="721.3" r="1.85" fill="rgba(30,110,40,0.55)"/>
<circle cx="236.3" cy="727.0" r="1.85" fill="rgba(30,110,40,0.55)"/>
<circle cx="231.7" cy="843.8" r="1.85" fill="rgba(30,110,40,0.55)"/>
<circle cx="243.0" cy="735.5" r="1.85" fill="rgba(30,110,40,0.55)"/>
<circle cx="246.5" cy="735.0" r="1.85" fill="rgba(30,110,40,0.55)"/>
<circle cx="247.0" cy="740.0" r="1.85" fill="rgba(30,110,40,0.55)"/>
<circle cx="234.3" cy="740.5" r="1.85" fill="rgba(30,110,40,0.55)"/>
<circle cx="241.5" cy="742.5" r="1.85" fill="rgba(30,110,40,0.55)"/>
<circle cx="228.5" cy="746.5" r="1.85" fill="rgba(30,110,40,0.55)"/>
<line x1="128.6" y1="723.2" x2="128.6" y2="768.0" stroke="#333" stroke-width="1.6"/>
<line x1="128.6" y1="804.3" x2="128.6" y2="819.7" stroke="#333" stroke-width="1.6"/>
<rect x="114.7" y="768.0" width="27.8" height="36.3" fill="none" stroke="#333" stroke-width="1.55"/>
<line x1="114.7" y1="793.5" x2="142.5" y2="793.5" stroke="#333" stroke-width="2.7"/>
<line x1="238.5" y1="735.8" x2="238.5" y2="775.6" stroke="#333" stroke-width="1.6"/>
<line x1="238.5" y1="809.1" x2="238.5" y2="843.8" stroke="#333" stroke-width="1.6"/>
<rect x="224.3" y="775.6" width="28.4" height="33.5" fill="none" stroke="#333" stroke-width="1.55"/>
<line x1="224.3" y1="799.4" x2="252.7" y2="799.4" stroke="#333" stroke-width="2.7"/>
<path d="M62.9,658.9 L62.9,876.6 L309.9,876.6" fill="none" stroke="#111" stroke-width="1.9" stroke-linejoin="round" stroke-linecap="round"/>
<line x1="58.1" y1="696.4" x2="62.9" y2="696.4" stroke="#333" stroke-width="1.3"/>
<text x="53.9" y="701.4" text-anchor="end" font-size="12.3" fill="#4d4d4d">11</text>
<line x1="58.1" y1="792.4" x2="62.9" y2="792.4" stroke="#333" stroke-width="1.3"/>
<text x="53.9" y="797.4" text-anchor="end" font-size="12.3" fill="#4d4d4d">10</text>
<line x1="128.6" y1="876.6" x2="128.6" y2="881.2" stroke="#333" stroke-width="1.3"/>
<text x="128.6" y="896.2" text-anchor="middle" font-size="16.3" fill="#4d4d4d">Core</text>
<line x1="238.3" y1="876.6" x2="238.3" y2="881.2" stroke="#333" stroke-width="1.3"/>
<text x="238.3" y="896.2" text-anchor="middle" font-size="16.3" fill="#4d4d4d">Matrix</text>
<text x="158.2" y="668.5" font-size="12.4" font-weight="bold" fill="#000" textLength="79.8" lengthAdjust="spacingAndGlyphs">Left Thalamus</text>
<text transform="translate(28.8,769.5) rotate(-90)" text-anchor="middle" font-size="16" fill="#4d4d4d">Percent Connectivity</text>
<path d="M491.2,674.2 L491.2,674.2 C491.3,676.1 491.2,682.2 491.6,685.6 C492.0,689.0 492.8,691.5 493.4,694.4 C494.0,697.3 494.6,700.3 495.2,703.2 C495.8,706.1 496.4,709.8 496.9,712.0 C497.4,714.2 497.6,714.9 498.2,716.4 C498.8,717.9 499.5,719.3 500.4,720.8 C501.3,722.3 502.5,723.7 503.5,725.2 C504.5,726.7 505.7,728.1 506.6,729.6 C507.5,731.1 508.1,732.5 508.8,734.0 C509.5,735.5 510.5,736.9 511.0,738.4 C511.5,739.9 511.7,741.2 511.9,742.8 C512.1,744.4 512.1,746.2 512.1,748.0 C512.1,749.8 511.9,752.1 512.1,753.8 C512.3,755.5 512.7,756.7 513.2,758.2 C513.7,759.7 513.9,761.1 514.9,762.6 C515.9,764.1 517.7,765.5 519.3,767.0 C520.9,768.5 522.8,769.9 524.6,771.4 C526.4,772.9 528.4,774.3 529.9,775.8 C531.4,777.3 532.9,778.7 533.9,780.2 C534.9,781.7 535.7,783.1 535.6,784.6 C535.5,786.1 534.8,787.5 533.4,789.0 C532.0,790.5 529.5,791.9 527.3,793.4 C525.1,794.9 522.4,796.3 520.2,797.8 C518.0,799.3 516.2,800.7 514.1,802.2 C512.0,803.7 509.4,805.1 507.9,806.6 C506.4,808.1 505.9,809.6 505.3,811.0 C504.7,812.4 504.8,813.8 504.5,815.2 C504.2,816.6 504.2,818.2 503.8,819.6 C503.4,821.0 503.1,822.4 502.3,823.8 C501.6,825.2 500.2,826.6 499.3,828.1 C498.4,829.6 497.4,831.0 496.6,832.5 C495.8,834.0 495.0,835.4 494.4,836.9 C493.8,838.4 493.1,839.8 492.7,841.3 C492.3,842.8 492.1,843.3 491.8,845.6 C491.6,847.9 491.3,853.7 491.2,855.3 Z" fill="#d69590"/>
<path d="M601.1,667.9 L601.1,667.9 C601.3,669.5 601.8,674.5 602.2,677.6 C602.6,680.7 603.4,683.9 603.7,686.4 C604.0,688.9 604.2,690.3 604.1,692.5 C604.0,694.7 603.6,697.4 603.2,699.6 C602.9,701.8 602.1,703.5 602.0,705.7 C601.9,707.9 601.8,710.1 602.3,712.8 C602.8,715.4 603.8,718.7 604.8,721.6 C605.8,724.5 607.4,728.2 608.3,730.4 C609.2,732.6 609.2,733.5 610.1,735.0 C611.0,736.5 612.3,737.9 613.6,739.4 C614.9,740.9 616.5,742.3 618.0,743.8 C619.5,745.3 620.9,746.7 622.4,748.2 C623.9,749.7 625.6,751.1 626.8,752.6 C628.1,754.1 629.0,755.5 629.9,757.0 C630.8,758.5 631.6,759.9 632.5,761.4 C633.4,762.9 633.9,764.3 635.1,765.8 C636.4,767.3 638.2,768.7 640.0,770.2 C641.8,771.7 644.5,773.1 646.1,774.6 C647.7,776.1 648.8,777.7 649.6,779.0 C650.4,780.3 650.8,781.3 650.7,782.5 C650.6,783.7 650.3,784.7 648.8,786.0 C647.3,787.3 644.4,788.9 641.7,790.4 C639.1,791.9 635.7,793.3 632.9,794.8 C630.1,796.3 627.3,797.7 625.0,799.2 C622.7,800.7 620.4,802.1 618.9,803.6 C617.4,805.1 616.5,806.6 615.8,808.0 C615.1,809.4 615.1,810.7 614.9,812.0 C614.7,813.3 614.8,814.9 614.7,816.0 C614.6,817.1 614.8,817.6 614.4,818.8 C614.0,820.0 613.0,821.6 612.2,823.1 C611.4,824.6 610.5,826.0 609.6,827.5 C608.7,829.0 607.7,830.4 607.0,831.9 C606.3,833.4 605.7,834.8 605.2,836.3 C604.7,837.8 604.3,839.1 603.9,840.6 C603.5,842.1 603.2,843.5 602.9,845.0 C602.6,846.5 602.4,847.9 602.2,849.4 C602.0,850.9 601.9,850.9 601.7,853.8 C601.5,856.6 601.2,864.4 601.1,866.5 Z" fill="#91b593"/>
<line x1="469.5" y1="705.8" x2="469.5" y2="791.4" stroke="#333" stroke-width="1.6"/>
<rect x="455.2" y="755.1" width="28.6" height="36.3" fill="#d8918c" stroke="none"/>
<line x1="579.1" y1="724.9" x2="579.1" y2="792.2" stroke="#333" stroke-width="1.6"/>
<rect x="564.9" y="760.5" width="28.4" height="31.7" fill="#8fba92" stroke="none"/>
<circle cx="472.4" cy="705.8" r="1.85" fill="rgba(188,34,26,0.58)"/>
<circle cx="473.3" cy="713.5" r="1.85" fill="rgba(188,34,26,0.58)"/>
<circle cx="472.2" cy="722.7" r="1.85" fill="rgba(188,34,26,0.58)"/>
<circle cx="459.2" cy="733.3" r="1.85" fill="rgba(188,34,26,0.58)"/>
<circle cx="460.7" cy="734.4" r="1.85" fill="rgba(188,34,26,0.58)"/>
<circle cx="471.1" cy="734.4" r="1.85" fill="rgba(188,34,26,0.58)"/>
<circle cx="475.0" cy="732.2" r="1.85" fill="rgba(188,34,26,0.58)"/>
<circle cx="477.7" cy="735.9" r="1.85" fill="rgba(188,34,26,0.58)"/>
<circle cx="480.5" cy="732.0" r="1.85" fill="rgba(188,34,26,0.58)"/>
<circle cx="460.3" cy="741.0" r="1.85" fill="rgba(188,34,26,0.58)"/>
<circle cx="459.6" cy="743.2" r="1.85" fill="rgba(188,34,26,0.58)"/>
<circle cx="475.0" cy="741.4" r="1.85" fill="rgba(188,34,26,0.58)"/>
<circle cx="475.0" cy="745.4" r="1.85" fill="rgba(188,34,26,0.58)"/>
<circle cx="479.9" cy="749.8" r="1.85" fill="rgba(188,34,26,0.58)"/>
<circle cx="470.2" cy="747.6" r="1.85" fill="rgba(188,34,26,0.58)"/>
<circle cx="465.6" cy="754.7" r="1.85" fill="rgba(188,34,26,0.58)"/>
<circle cx="472.8" cy="756.0" r="1.85" fill="rgba(188,34,26,0.58)"/>
<circle cx="478.3" cy="758.0" r="1.85" fill="rgba(188,34,26,0.58)"/>
<circle cx="465.6" cy="760.2" r="1.85" fill="rgba(188,34,26,0.58)"/>
<circle cx="462.9" cy="766.8" r="1.85" fill="rgba(188,34,26,0.58)"/>
<circle cx="459.6" cy="773.4" r="1.85" fill="rgba(188,34,26,0.58)"/>
<circle cx="473.9" cy="770.1" r="1.85" fill="rgba(188,34,26,0.58)"/>
<circle cx="478.3" cy="772.3" r="1.85" fill="rgba(188,34,26,0.58)"/>
<circle cx="465.6" cy="774.5" r="1.85" fill="rgba(188,34,26,0.58)"/>
<circle cx="479.4" cy="776.7" r="1.85" fill="rgba(188,34,26,0.58)"/>
<circle cx="472.4" cy="774.5" r="1.85" fill="rgba(188,34,26,0.58)"/>
<circle cx="459.6" cy="784.4" r="1.85" fill="rgba(188,34,26,0.58)"/>
<circle cx="464.0" cy="785.5" r="1.85" fill="rgba(188,34,26,0.58)"/>
<circle cx="467.3" cy="783.3" r="1.85" fill="rgba(188,34,26,0.58)"/>
<circle cx="475.0" cy="783.3" r="1.85" fill="rgba(188,34,26,0.58)"/>
<circle cx="471.7" cy="784.4" r="1.85" fill="rgba(188,34,26,0.58)"/>
<circle cx="461.8" cy="787.7" r="1.85" fill="rgba(188,34,26,0.58)"/>
<circle cx="465.1" cy="788.8" r="1.85" fill="rgba(188,34,26,0.58)"/>
<circle cx="458.5" cy="788.8" r="1.85" fill="rgba(188,34,26,0.58)"/>
<circle cx="465.1" cy="793.2" r="1.85" fill="rgba(188,34,26,0.58)"/>
<circle cx="473.9" cy="794.3" r="1.85" fill="rgba(188,34,26,0.58)"/>
<circle cx="475.0" cy="792.1" r="1.85" fill="rgba(188,34,26,0.58)"/>
<circle cx="470.2" cy="798.2" r="1.85" fill="rgba(188,34,26,0.58)"/>
<circle cx="476.8" cy="798.2" r="1.85" fill="rgba(188,34,26,0.58)"/>
<circle cx="460.1" cy="805.3" r="1.85" fill="rgba(188,34,26,0.58)"/>
<circle cx="476.1" cy="813.0" r="1.85" fill="rgba(188,34,26,0.58)"/>
<circle cx="470.2" cy="818.9" r="1.85" fill="rgba(188,34,26,0.58)"/>
<circle cx="478.3" cy="820.2" r="1.85" fill="rgba(188,34,26,0.58)"/>
<circle cx="459.2" cy="822.4" r="1.85" fill="rgba(188,34,26,0.58)"/>
<circle cx="466.9" cy="824.0" r="1.85" fill="rgba(188,34,26,0.58)"/>
<circle cx="468.0" cy="779.0" r="1.85" fill="rgba(188,34,26,0.58)"/>
<circle cx="462.0" cy="778.0" r="1.85" fill="rgba(188,34,26,0.58)"/>
<circle cx="476.0" cy="779.5" r="1.85" fill="rgba(188,34,26,0.58)"/>
<circle cx="480.0" cy="786.0" r="1.85" fill="rgba(188,34,26,0.58)"/>
<circle cx="457.5" cy="781.0" r="1.85" fill="rgba(188,34,26,0.58)"/>
<circle cx="469.0" cy="790.0" r="1.85" fill="rgba(188,34,26,0.58)"/>
<circle cx="589.1" cy="777.8" r="1.85" fill="rgba(30,110,40,0.55)"/>
<circle cx="581.2" cy="778.1" r="1.85" fill="rgba(30,110,40,0.55)"/>
<circle cx="582.2" cy="759.7" r="1.85" fill="rgba(30,110,40,0.55)"/>
<circle cx="574.5" cy="793.3" r="1.85" fill="rgba(30,110,40,0.55)"/>
<circle cx="583.7" cy="750.5" r="1.85" fill="rgba(30,110,40,0.55)"/>
<circle cx="590.1" cy="743.3" r="1.85" fill="rgba(30,110,40,0.55)"/>
<circle cx="571.0" cy="785.8" r="1.85" fill="rgba(30,110,40,0.55)"/>
<circle cx="568.7" cy="734.6" r="1.85" fill="rgba(30,110,40,0.55)"/>
<circle cx="568.0" cy="759.7" r="1.85" fill="rgba(30,110,40,0.55)"/>
<circle cx="587.2" cy="778.0" r="1.85" fill="rgba(30,110,40,0.55)"/>
<circle cx="579.1" cy="780.6" r="1.85" fill="rgba(30,110,40,0.55)"/>
<circle cx="573.9" cy="785.9" r="1.85" fill="rgba(30,110,40,0.55)"/>
<circle cx="587.1" cy="834.9" r="1.85" fill="rgba(30,110,40,0.55)"/>
<circle cx="572.7" cy="787.9" r="1.85" fill="rgba(30,110,40,0.55)"/>
<circle cx="585.4" cy="767.3" r="1.85" fill="rgba(30,110,40,0.55)"/>
<circle cx="576.4" cy="775.2" r="1.85" fill="rgba(30,110,40,0.55)"/>
<circle cx="567.3" cy="819.4" r="1.85" fill="rgba(30,110,40,0.55)"/>
<circle cx="578.4" cy="762.5" r="1.85" fill="rgba(30,110,40,0.55)"/>
<circle cx="569.0" cy="824.7" r="1.85" fill="rgba(30,110,40,0.55)"/>
<circle cx="573.7" cy="785.0" r="1.85" fill="rgba(30,110,40,0.55)"/>
<circle cx="590.1" cy="749.3" r="1.85" fill="rgba(30,110,40,0.55)"/>
<circle cx="573.1" cy="790.7" r="1.85" fill="rgba(30,110,40,0.55)"/>
<circle cx="586.1" cy="750.6" r="1.85" fill="rgba(30,110,40,0.55)"/>
<circle cx="577.9" cy="758.9" r="1.85" fill="rgba(30,110,40,0.55)"/>
<circle cx="570.4" cy="760.5" r="1.85" fill="rgba(30,110,40,0.55)"/>
<circle cx="577.2" cy="784.7" r="1.85" fill="rgba(30,110,40,0.55)"/>
<circle cx="590.2" cy="761.5" r="1.85" fill="rgba(30,110,40,0.55)"/>
<circle cx="588.2" cy="794.5" r="1.85" fill="rgba(30,110,40,0.55)"/>
<circle cx="587.5" cy="761.7" r="1.85" fill="rgba(30,110,40,0.55)"/>
<circle cx="590.6" cy="784.7" r="1.85" fill="rgba(30,110,40,0.55)"/>
<circle cx="585.5" cy="761.5" r="1.85" fill="rgba(30,110,40,0.55)"/>
<circle cx="569.0" cy="770.3" r="1.85" fill="rgba(30,110,40,0.55)"/>
<circle cx="573.0" cy="750.1" r="1.85" fill="rgba(30,110,40,0.55)"/>
<circle cx="578.0" cy="783.3" r="1.85" fill="rgba(30,110,40,0.55)"/>
<circle cx="580.9" cy="818.8" r="1.85" fill="rgba(30,110,40,0.55)"/>
<circle cx="570.9" cy="800.9" r="1.85" fill="rgba(30,110,40,0.55)"/>
<circle cx="573.2" cy="809.7" r="1.85" fill="rgba(30,110,40,0.55)"/>
<circle cx="589.5" cy="760.5" r="1.85" fill="rgba(30,110,40,0.55)"/>
<circle cx="588.1" cy="761.2" r="1.85" fill="rgba(30,110,40,0.55)"/>
<circle cx="569.8" cy="783.4" r="1.85" fill="rgba(30,110,40,0.55)"/>
<circle cx="572.9" cy="742.3" r="1.85" fill="rgba(30,110,40,0.55)"/>
<circle cx="586.7" cy="787.8" r="1.85" fill="rgba(30,110,40,0.55)"/>
<circle cx="571.4" cy="783.2" r="1.85" fill="rgba(30,110,40,0.55)"/>
<circle cx="572.7" cy="788.4" r="1.85" fill="rgba(30,110,40,0.55)"/>
<circle cx="581.8" cy="782.4" r="1.85" fill="rgba(30,110,40,0.55)"/>
<circle cx="572.1" cy="767.8" r="1.85" fill="rgba(30,110,40,0.55)"/>
<circle cx="577.8" cy="735.1" r="1.85" fill="rgba(30,110,40,0.55)"/>
<circle cx="576.0" cy="745.0" r="1.85" fill="rgba(30,110,40,0.55)"/>
<circle cx="575.8" cy="781.9" r="1.85" fill="rgba(30,110,40,0.55)"/>
<circle cx="582.8" cy="806.1" r="1.85" fill="rgba(30,110,40,0.55)"/>
<circle cx="570.6" cy="787.5" r="1.85" fill="rgba(30,110,40,0.55)"/>
<circle cx="588.8" cy="739.9" r="1.85" fill="rgba(30,110,40,0.55)"/>
<circle cx="567.8" cy="788.9" r="1.85" fill="rgba(30,110,40,0.55)"/>
<circle cx="584.5" cy="784.9" r="1.85" fill="rgba(30,110,40,0.55)"/>
<circle cx="569.1" cy="770.6" r="1.85" fill="rgba(30,110,40,0.55)"/>
<circle cx="588.5" cy="781.8" r="1.85" fill="rgba(30,110,40,0.55)"/>
<circle cx="586.0" cy="790.3" r="1.85" fill="rgba(30,110,40,0.55)"/>
<circle cx="583.5" cy="810.2" r="1.85" fill="rgba(30,110,40,0.55)"/>
<circle cx="577.1" cy="808.2" r="1.85" fill="rgba(30,110,40,0.55)"/>
<circle cx="580.8" cy="794.1" r="1.85" fill="rgba(30,110,40,0.55)"/>
<circle cx="581.1" cy="784.4" r="1.85" fill="rgba(30,110,40,0.55)"/>
<circle cx="582.4" cy="783.2" r="1.85" fill="rgba(30,110,40,0.55)"/>
<circle cx="584.5" cy="831.6" r="1.85" fill="rgba(30,110,40,0.55)"/>
<circle cx="581.0" cy="774.5" r="1.85" fill="rgba(30,110,40,0.55)"/>
<circle cx="569.3" cy="777.3" r="1.85" fill="rgba(30,110,40,0.55)"/>
<circle cx="581.5" cy="790.1" r="1.85" fill="rgba(30,110,40,0.55)"/>
<circle cx="583.8" cy="778.6" r="1.85" fill="rgba(30,110,40,0.55)"/>
<circle cx="589.0" cy="779.9" r="1.85" fill="rgba(30,110,40,0.55)"/>
<circle cx="574.4" cy="764.6" r="1.85" fill="rgba(30,110,40,0.55)"/>
<circle cx="571.3" cy="786.4" r="1.85" fill="rgba(30,110,40,0.55)"/>
<circle cx="577.7" cy="808.7" r="1.85" fill="rgba(30,110,40,0.55)"/>
<circle cx="583.0" cy="805.5" r="1.85" fill="rgba(30,110,40,0.55)"/>
<circle cx="586.3" cy="760.8" r="1.85" fill="rgba(30,110,40,0.55)"/>
<circle cx="576.4" cy="811.0" r="1.85" fill="rgba(30,110,40,0.55)"/>
<circle cx="570.5" cy="782.6" r="1.85" fill="rgba(30,110,40,0.55)"/>
<circle cx="587.3" cy="780.2" r="1.85" fill="rgba(30,110,40,0.55)"/>
<circle cx="573.8" cy="789.4" r="1.85" fill="rgba(30,110,40,0.55)"/>
<circle cx="573.8" cy="758.2" r="1.85" fill="rgba(30,110,40,0.55)"/>
<circle cx="582.1" cy="762.1" r="1.85" fill="rgba(30,110,40,0.55)"/>
<circle cx="587.1" cy="779.1" r="1.85" fill="rgba(30,110,40,0.55)"/>
<circle cx="569.1" cy="825.7" r="1.85" fill="rgba(30,110,40,0.55)"/>
<circle cx="568.3" cy="740.4" r="1.85" fill="rgba(30,110,40,0.55)"/>
<circle cx="574.6" cy="788.8" r="1.85" fill="rgba(30,110,40,0.55)"/>
<circle cx="570.5" cy="793.2" r="1.85" fill="rgba(30,110,40,0.55)"/>
<circle cx="586.9" cy="776.9" r="1.85" fill="rgba(30,110,40,0.55)"/>
<circle cx="568.4" cy="763.5" r="1.85" fill="rgba(30,110,40,0.55)"/>
<circle cx="582.2" cy="784.5" r="1.85" fill="rgba(30,110,40,0.55)"/>
<circle cx="589.9" cy="786.1" r="1.85" fill="rgba(30,110,40,0.55)"/>
<circle cx="578.5" cy="786.8" r="1.85" fill="rgba(30,110,40,0.55)"/>
<circle cx="578.4" cy="758.4" r="1.85" fill="rgba(30,110,40,0.55)"/>
<circle cx="573.7" cy="788.1" r="1.85" fill="rgba(30,110,40,0.55)"/>
<circle cx="579.6" cy="771.8" r="1.85" fill="rgba(30,110,40,0.55)"/>
<circle cx="576.6" cy="784.7" r="1.85" fill="rgba(30,110,40,0.55)"/>
<circle cx="569.4" cy="794.6" r="1.85" fill="rgba(30,110,40,0.55)"/>
<circle cx="570.4" cy="814.8" r="1.85" fill="rgba(30,110,40,0.55)"/>
<circle cx="588.8" cy="777.9" r="1.85" fill="rgba(30,110,40,0.55)"/>
<circle cx="588.1" cy="773.4" r="1.85" fill="rgba(30,110,40,0.55)"/>
<circle cx="578.2" cy="795.1" r="1.85" fill="rgba(30,110,40,0.55)"/>
<circle cx="584.3" cy="785.2" r="1.85" fill="rgba(30,110,40,0.55)"/>
<circle cx="584.2" cy="796.3" r="1.85" fill="rgba(30,110,40,0.55)"/>
<circle cx="590.4" cy="762.5" r="1.85" fill="rgba(30,110,40,0.55)"/>
<circle cx="586.0" cy="824.0" r="1.85" fill="rgba(30,110,40,0.55)"/>
<circle cx="587.5" cy="770.9" r="1.85" fill="rgba(30,110,40,0.55)"/>
<circle cx="577.7" cy="771.3" r="1.85" fill="rgba(30,110,40,0.55)"/>
<circle cx="578.8" cy="781.9" r="1.85" fill="rgba(30,110,40,0.55)"/>
<circle cx="568.8" cy="739.5" r="1.85" fill="rgba(30,110,40,0.55)"/>
<circle cx="575.2" cy="793.8" r="1.85" fill="rgba(30,110,40,0.55)"/>
<circle cx="570.8" cy="792.9" r="1.85" fill="rgba(30,110,40,0.55)"/>
<circle cx="587.1" cy="780.8" r="1.85" fill="rgba(30,110,40,0.55)"/>
<circle cx="578.9" cy="788.0" r="1.85" fill="rgba(30,110,40,0.55)"/>
<circle cx="572.5" cy="816.7" r="1.85" fill="rgba(30,110,40,0.55)"/>
<circle cx="584.5" cy="780.4" r="1.85" fill="rgba(30,110,40,0.55)"/>
<circle cx="587.2" cy="785.0" r="1.85" fill="rgba(30,110,40,0.55)"/>
<circle cx="576.3" cy="781.8" r="1.85" fill="rgba(30,110,40,0.55)"/>
<circle cx="572.2" cy="799.4" r="1.85" fill="rgba(30,110,40,0.55)"/>
<circle cx="579.7" cy="799.9" r="1.85" fill="rgba(30,110,40,0.55)"/>
<circle cx="579.9" cy="782.0" r="1.85" fill="rgba(30,110,40,0.55)"/>
<circle cx="568.0" cy="779.9" r="1.85" fill="rgba(30,110,40,0.55)"/>
<circle cx="576.8" cy="821.4" r="1.85" fill="rgba(30,110,40,0.55)"/>
<circle cx="578.9" cy="794.5" r="1.85" fill="rgba(30,110,40,0.55)"/>
<circle cx="580.0" cy="786.6" r="1.85" fill="rgba(30,110,40,0.55)"/>
<circle cx="589.1" cy="776.2" r="1.85" fill="rgba(30,110,40,0.55)"/>
<circle cx="570.3" cy="766.2" r="1.85" fill="rgba(30,110,40,0.55)"/>
<circle cx="588.6" cy="776.9" r="1.85" fill="rgba(30,110,40,0.55)"/>
<circle cx="571.8" cy="778.3" r="1.85" fill="rgba(30,110,40,0.55)"/>
<circle cx="570.4" cy="784.9" r="1.85" fill="rgba(30,110,40,0.55)"/>
<circle cx="571.9" cy="792.3" r="1.85" fill="rgba(30,110,40,0.55)"/>
<circle cx="574.9" cy="763.5" r="1.85" fill="rgba(30,110,40,0.55)"/>
<circle cx="569.8" cy="772.6" r="1.85" fill="rgba(30,110,40,0.55)"/>
<circle cx="579.3" cy="788.9" r="1.85" fill="rgba(30,110,40,0.55)"/>
<circle cx="579.8" cy="764.4" r="1.85" fill="rgba(30,110,40,0.55)"/>
<circle cx="577.1" cy="776.6" r="1.85" fill="rgba(30,110,40,0.55)"/>
<circle cx="572.1" cy="780.2" r="1.85" fill="rgba(30,110,40,0.55)"/>
<circle cx="579.8" cy="784.8" r="1.85" fill="rgba(30,110,40,0.55)"/>
<circle cx="587.5" cy="799.8" r="1.85" fill="rgba(30,110,40,0.55)"/>
<circle cx="586.4" cy="764.0" r="1.85" fill="rgba(30,110,40,0.55)"/>
<circle cx="574.7" cy="807.7" r="1.85" fill="rgba(30,110,40,0.55)"/>
<circle cx="590.9" cy="811.5" r="1.85" fill="rgba(30,110,40,0.55)"/>
<circle cx="572.9" cy="804.3" r="1.85" fill="rgba(30,110,40,0.55)"/>
<circle cx="569.6" cy="789.1" r="1.85" fill="rgba(30,110,40,0.55)"/>
<circle cx="585.9" cy="797.3" r="1.85" fill="rgba(30,110,40,0.55)"/>
<circle cx="583.5" cy="753.8" r="1.85" fill="rgba(30,110,40,0.55)"/>
<circle cx="583.4" cy="735.4" r="1.85" fill="rgba(30,110,40,0.55)"/>
<circle cx="570.0" cy="810.3" r="1.85" fill="rgba(30,110,40,0.55)"/>
<circle cx="579.2" cy="780.5" r="1.85" fill="rgba(30,110,40,0.55)"/>
<circle cx="569.0" cy="786.8" r="1.85" fill="rgba(30,110,40,0.55)"/>
<circle cx="580.3" cy="751.0" r="1.85" fill="rgba(30,110,40,0.55)"/>
<circle cx="570.8" cy="780.5" r="1.85" fill="rgba(30,110,40,0.55)"/>
<circle cx="587.1" cy="759.2" r="1.85" fill="rgba(30,110,40,0.55)"/>
<circle cx="569.5" cy="829.9" r="1.85" fill="rgba(30,110,40,0.55)"/>
<circle cx="578.2" cy="746.7" r="1.85" fill="rgba(30,110,40,0.55)"/>
<circle cx="578.3" cy="791.4" r="1.85" fill="rgba(30,110,40,0.55)"/>
<circle cx="581.5" cy="780.3" r="1.85" fill="rgba(30,110,40,0.55)"/>
<circle cx="587.2" cy="734.4" r="1.85" fill="rgba(30,110,40,0.55)"/>
<circle cx="584.7" cy="759.1" r="1.85" fill="rgba(30,110,40,0.55)"/>
<circle cx="571.2" cy="774.6" r="1.85" fill="rgba(30,110,40,0.55)"/>
<circle cx="588.4" cy="779.3" r="1.85" fill="rgba(30,110,40,0.55)"/>
<circle cx="587.6" cy="795.1" r="1.85" fill="rgba(30,110,40,0.55)"/>
<circle cx="581.5" cy="784.4" r="1.85" fill="rgba(30,110,40,0.55)"/>
<circle cx="586.3" cy="780.5" r="1.85" fill="rgba(30,110,40,0.55)"/>
<circle cx="584.9" cy="766.5" r="1.85" fill="rgba(30,110,40,0.55)"/>
<circle cx="576.9" cy="793.1" r="1.85" fill="rgba(30,110,40,0.55)"/>
<circle cx="583.7" cy="807.3" r="1.85" fill="rgba(30,110,40,0.55)"/>
<circle cx="576.9" cy="792.6" r="1.85" fill="rgba(30,110,40,0.55)"/>
<circle cx="575.4" cy="788.4" r="1.85" fill="rgba(30,110,40,0.55)"/>
<circle cx="572.2" cy="690.8" r="1.85" fill="rgba(30,110,40,0.55)"/>
<circle cx="580.0" cy="689.5" r="1.85" fill="rgba(30,110,40,0.55)"/>
<circle cx="589.2" cy="690.8" r="1.85" fill="rgba(30,110,40,0.55)"/>
<circle cx="573.9" cy="699.2" r="1.85" fill="rgba(30,110,40,0.55)"/>
<circle cx="586.7" cy="715.0" r="1.85" fill="rgba(30,110,40,0.55)"/>
<circle cx="569.1" cy="845.3" r="1.85" fill="rgba(30,110,40,0.55)"/>
<line x1="469.5" y1="705.8" x2="469.5" y2="755.1" stroke="#333" stroke-width="1.6"/>
<line x1="469.5" y1="791.4" x2="469.5" y2="824.0" stroke="#333" stroke-width="1.6"/>
<rect x="455.2" y="755.1" width="28.6" height="36.3" fill="none" stroke="#333" stroke-width="1.55"/>
<line x1="455.2" y1="780.0" x2="483.8" y2="780.0" stroke="#333" stroke-width="2.7"/>
<line x1="579.1" y1="724.9" x2="579.1" y2="760.5" stroke="#333" stroke-width="1.6"/>
<line x1="579.1" y1="792.2" x2="579.1" y2="833.7" stroke="#333" stroke-width="1.6"/>
<rect x="564.9" y="760.5" width="28.4" height="31.7" fill="none" stroke="#333" stroke-width="1.55"/>
<line x1="564.9" y1="779.9" x2="593.3" y2="779.9" stroke="#333" stroke-width="2.7"/>
<path d="M403.7,659.0 L403.7,876.6 L650.8,876.6" fill="none" stroke="#111" stroke-width="1.9" stroke-linejoin="round" stroke-linecap="round"/>
<line x1="398.9" y1="710.0" x2="403.7" y2="710.0" stroke="#333" stroke-width="1.3"/>
<text x="394.7" y="715.0" text-anchor="end" font-size="12.3" fill="#4d4d4d">11</text>
<line x1="398.9" y1="779.8" x2="403.7" y2="779.8" stroke="#333" stroke-width="1.3"/>
<text x="394.7" y="784.8" text-anchor="end" font-size="12.3" fill="#4d4d4d">10</text>
<line x1="398.9" y1="849.9" x2="403.7" y2="849.9" stroke="#333" stroke-width="1.3"/>
<text x="394.7" y="854.9" text-anchor="end" font-size="12.3" fill="#4d4d4d">9</text>
<line x1="469.6" y1="876.6" x2="469.6" y2="881.2" stroke="#333" stroke-width="1.3"/>
<text x="469.6" y="896.2" text-anchor="middle" font-size="16.3" fill="#4d4d4d">Core</text>
<line x1="579.0" y1="876.6" x2="579.0" y2="881.2" stroke="#333" stroke-width="1.3"/>
<text x="579.0" y="896.2" text-anchor="middle" font-size="16.3" fill="#4d4d4d">Matrix</text>
<text x="491.6" y="668.0" font-size="12.4" font-weight="bold" fill="#000" textLength="87.8" lengthAdjust="spacingAndGlyphs">Right Thalamus</text>
<text transform="translate(368.9,773.6) rotate(-90)" text-anchor="middle" font-size="16" fill="#4d4d4d">Percent Connectivity</text>
<text x="5.8" y="664.0" font-size="15" font-weight="bold" fill="#000">c)</text>
<line x1="0" y1="321.6" x2="685" y2="321.6" stroke="#4a4a4a" stroke-width="1.7"/>
<line x1="0" y1="643.1" x2="685" y2="643.1" stroke="#4a4a4a" stroke-width="1.7"/>
<line x1="0" y1="0.5" x2="685" y2="0.5" stroke="#262626" stroke-width="1"/>
<line x1="0" y1="908.5" x2="685" y2="908.5" stroke="#262626" stroke-width="1"/>
<line x1="0.5" y1="0" x2="0.5" y2="643" stroke="#252525" stroke-width="1"/>
<line x1="0.5" y1="643" x2="0.5" y2="909" stroke="#6a6a6a" stroke-width="1"/>
<line x1="684.5" y1="0" x2="684.5" y2="643" stroke="#707070" stroke-width="1"/>
<line x1="684.5" y1="643" x2="684.5" y2="909" stroke="#2e2e2e" stroke-width="1"/>
</svg>
</body></html>
